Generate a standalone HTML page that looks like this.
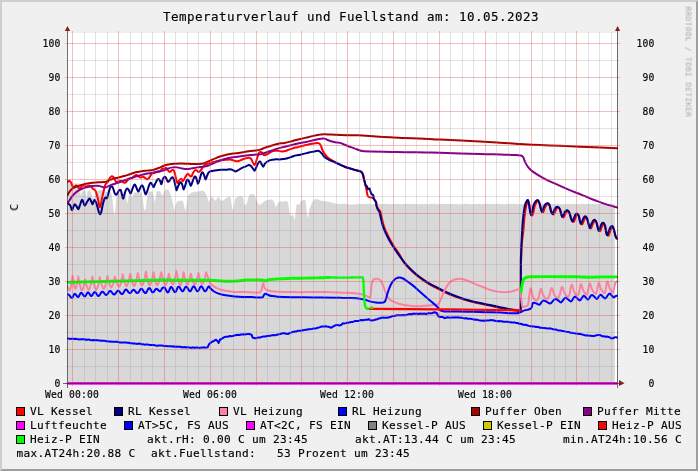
<!DOCTYPE html>
<html lang="de">
<head>
<meta charset="utf-8">
<title>Temperaturverlauf und Fuellstand</title>
<style>
html,body{margin:0;padding:0;background:#f0f0f0;}
body{width:698px;height:471px;overflow:hidden;}
svg{display:block;}
</style>
</head>
<body>
<svg width="698" height="471" viewBox="0 0 698 471" shape-rendering="auto">
<rect x="0" y="0" width="698" height="471" fill="#f0f0f0"/>
<polygon points="0,0 698,0 696,2 2,2 2,469 0,471" fill="#cfcfcf"/>
<polygon points="698,471 0,471 2,469 696,469 696,2 698,0" fill="#9e9e9e"/>
<rect x="67" y="33" width="550" height="350" fill="#ffffff"/>
<path d="M67.50,183.61L79.04,183.61L80.05,190.06L80.91,196.50L81.91,191.49L84.06,190.06L85.49,191.49L86.49,197.94L87.64,191.49L89.79,190.06L91.22,192.92L92.65,198.65L94.37,197.22L95.52,191.49L99.82,190.06L105.55,191.49L111.28,192.92L112.71,201.52L114.14,215.85L115.29,211.55L116.29,198.65L117.72,193.64L120.59,193.64L124.89,193.64L126.32,198.65L127.32,203.67L128.47,197.22L129.62,193.64L131.05,194.36L132.05,198.65L133.05,194.36L134.92,192.21L141.36,192.21L142.80,198.65L144.23,210.83L145.66,208.68L147.09,197.22L148.53,191.78L152.54,191.49L153.68,197.22L154.69,202.23L155.83,196.50L156.84,191.20L160.28,191.20L161.71,195.07L162.15,196.50L164.30,191.49L166.45,189.34L168.60,190.06L170.74,195.07L172.89,202.95L174.33,210.83L175.47,205.82L176.48,202.23L179.34,200.80L182.92,200.80L184.36,207.25L185.50,211.55L186.50,204.38L187.94,195.79L190.80,192.92L194.38,191.78L198.68,191.49L202.98,190.49L205.13,192.21L207.28,197.22L208.71,202.23L210.14,198.65L211.86,196.50L213.72,198.65L215.59,200.80L217.31,197.94L218.45,196.50L219.89,198.65L221.60,201.23L223.75,200.09L226.62,197.94L229.48,196.22L230.49,197.94L231.63,204.38L232.64,210.83L233.78,205.82L235.21,198.65L238.08,196.50L241.66,195.79L243.09,197.94L244.24,204.38L245.96,205.10L247.39,201.52L248.83,195.79L251.69,194.07L253.84,194.36L255.99,197.94L258.14,203.67L259.58,205.10L261.73,203.67L263.88,201.52L266.74,200.37L269.61,199.80L271.76,199.37L273.19,200.80L274.62,203.67L275.77,207.25L277.20,205.10L278.21,202.23L280.36,201.23L283.94,201.81L286.09,200.80L287.81,202.23L288.95,207.97L289.81,214.41L290.67,216.56L291.82,214.41L292.96,215.13L293.97,217.28L294.68,220.86L295.54,212.98L296.40,204.38L297.55,204.10L298.98,205.10L300.41,202.23L301.85,200.37L305.43,200.09L306.14,205.82L307.00,215.85L307.86,217.99L308.72,212.98L309.72,207.97L311.16,205.10L312.59,201.52L314.74,199.37L317.60,199.37L320.47,200.52L324.77,201.23L330.50,202.23L336.23,203.67L340.53,204.10L344.83,203.67L349.12,204.38L356.00,204.38L357.00,203.87L359.00,204.02L361.00,203.93L363.00,204.05L365.00,204.06L367.00,203.78L369.00,203.76L371.00,204.17L373.00,203.88L375.00,203.87L377.00,204.25L379.00,203.99L381.00,204.17L383.00,203.99L385.00,204.07L387.00,203.83L389.00,204.07L391.00,204.18L393.00,204.01L395.00,204.12L397.00,204.09L399.00,203.78L401.00,204.13L403.00,204.05L405.00,203.90L407.00,203.77L409.00,204.18L411.00,203.99L413.00,204.11L415.00,204.19L417.00,204.11L419.00,204.21L421.00,203.95L423.00,204.15L425.00,203.97L427.00,204.22L429.00,204.19L431.00,203.80L433.00,203.82L435.00,203.86L437.00,204.23L439.00,203.97L441.00,204.06L443.00,203.90L445.00,204.00L447.00,203.94L449.00,203.93L451.00,204.04L453.00,204.04L455.00,204.20L457.00,204.09L459.00,204.21L461.00,204.18L463.00,204.25L465.00,204.09L467.00,203.83L469.00,204.18L471.00,204.23L473.00,204.20L475.00,204.03L477.00,204.11L479.00,203.86L481.00,204.17L483.00,204.04L485.00,203.89L487.00,203.78L489.00,204.18L491.00,204.24L493.00,203.79L495.00,204.15L497.00,203.96L499.00,203.83L501.00,203.90L503.00,204.13L505.00,204.19L507.00,203.77L509.00,204.06L511.00,203.77L513.00,204.11L515.00,203.92L517.00,204.19L519.00,204.24L521.00,204.00L523.00,204.25L525.00,203.90L527.00,203.79L529.00,204.05L531.00,203.77L533.00,203.85L535.00,203.95L537.00,204.06L539.00,203.83L541.00,203.77L543.00,204.18L545.00,203.91L547.00,204.23L549.00,204.20L551.00,203.94L553.00,203.98L555.00,204.01L557.00,204.07L559.00,204.05L561.00,204.03L563.00,204.06L565.00,204.22L567.00,204.00L569.00,203.97L571.00,204.11L573.00,203.87L575.00,203.90L577.00,204.24L579.00,204.01L581.00,204.02L583.00,203.76L585.00,203.96L587.00,204.04L589.00,203.76L591.00,204.06L593.00,204.07L595.00,203.78L597.00,204.06L599.00,203.98L601.00,204.09L603.00,203.93L605.00,204.10L607.00,204.12L609.00,203.76L611.00,203.78L613.00,204.09L614.80,204.00L614.8,383L67.5,383Z" fill="#d8d8d8"/>
<defs><clipPath id="cv"><rect x="67" y="33" width="551" height="351"/></clipPath></defs>
<g clip-path="url(#cv)">
<path d="M67.58,182.09C67.89,181.85 68.85,180.53 69.44,180.65C70.04,180.77 70.64,181.85 71.16,182.80C71.69,183.76 72.17,185.55 72.60,186.38C73.03,187.22 73.31,187.86 73.74,187.82C74.17,187.77 74.70,186.46 75.17,186.10C75.65,185.74 76.08,185.43 76.61,185.67C77.13,185.91 77.80,187.05 78.33,187.53C78.85,188.01 79.28,188.60 79.76,188.53C80.24,188.46 80.71,187.65 81.19,187.10C81.67,186.55 82.03,185.40 82.62,185.24C83.22,185.07 84.06,185.91 84.77,186.10C85.49,186.29 86.21,186.46 86.92,186.38C87.64,186.31 88.36,185.67 89.07,185.67C89.79,185.67 90.62,185.91 91.22,186.38C91.82,186.86 92.06,187.94 92.65,188.53C93.25,189.13 94.21,189.25 94.80,189.97C95.40,190.68 95.76,191.52 96.23,192.83C96.71,194.14 97.19,195.82 97.67,197.85C98.15,199.87 98.74,203.46 99.10,205.01C99.46,206.56 99.51,207.40 99.82,207.16C100.13,206.92 100.53,205.37 100.96,203.58C101.39,201.79 101.87,198.80 102.40,196.41C102.92,194.02 103.59,191.28 104.11,189.25C104.64,187.22 104.95,185.43 105.55,184.23C106.14,183.04 107.03,183.04 107.70,182.09C108.36,181.13 108.96,179.46 109.56,178.50C110.16,177.55 110.63,176.59 111.28,176.36C111.92,176.12 112.83,176.47 113.43,177.07C114.02,177.67 114.38,179.10 114.86,179.94C115.34,180.77 115.70,181.85 116.29,182.09C116.89,182.32 117.72,181.61 118.44,181.37C119.16,181.13 119.87,180.58 120.59,180.65C121.31,180.72 122.14,181.44 122.74,181.80C123.34,182.16 123.65,182.75 124.17,182.80C124.70,182.85 125.29,182.56 125.89,182.09C126.49,181.61 127.09,180.53 127.75,179.94C128.42,179.34 129.19,178.81 129.90,178.50C130.62,178.19 131.34,178.48 132.05,178.07C132.77,177.67 133.48,176.59 134.20,176.07C134.92,175.54 135.63,174.87 136.35,174.92C137.07,174.97 137.78,175.93 138.50,176.36C139.21,176.79 139.93,177.45 140.65,177.50C141.36,177.55 142.08,176.59 142.80,176.64C143.51,176.69 144.23,177.36 144.95,177.79C145.66,178.22 146.50,179.10 147.09,179.22C147.69,179.34 148.05,178.98 148.53,178.50C149.00,178.03 149.36,177.19 149.96,176.36C150.56,175.52 151.39,174.09 152.11,173.49C152.83,172.89 153.42,173.01 154.26,172.77C155.09,172.53 156.17,172.30 157.12,172.06C158.08,171.82 159.15,171.88 159.99,171.34C160.83,170.80 161.43,169.30 162.15,168.80C162.87,168.31 163.58,168.49 164.30,168.37C165.01,168.25 165.85,167.78 166.45,168.09C167.04,168.40 167.33,169.57 167.88,170.23C168.43,170.90 169.15,172.03 169.74,172.10C170.34,172.17 170.89,171.05 171.46,170.66C172.03,170.28 172.66,169.52 173.18,169.81C173.71,170.09 174.18,171.12 174.61,172.38C175.04,173.65 175.38,175.85 175.76,177.40C176.14,178.95 176.55,180.74 176.91,181.70C177.26,182.65 177.50,183.37 177.91,183.13C178.31,182.89 178.79,180.98 179.34,180.26C179.89,179.55 180.61,178.71 181.20,178.83C181.80,178.95 182.40,180.98 182.92,180.98C183.45,180.98 183.81,179.74 184.36,178.83C184.90,177.92 185.62,176.37 186.22,175.54C186.81,174.70 187.29,173.74 187.94,173.82C188.58,173.89 189.49,175.54 190.09,175.97C190.68,176.40 191.04,176.87 191.52,176.40C192.00,175.92 192.35,174.13 192.95,173.10C193.55,172.07 194.43,170.64 195.10,170.23C195.77,169.83 196.37,170.35 196.96,170.66C197.56,170.98 198.04,172.17 198.68,172.10C199.33,172.03 200.16,171.02 200.83,170.23C201.50,169.45 202.05,168.25 202.69,167.37C203.34,166.49 203.94,165.53 204.70,164.93C205.46,164.34 206.37,164.10 207.28,163.79C208.19,163.48 209.07,163.36 210.14,163.07C211.22,162.79 212.53,162.43 213.72,162.07C214.92,161.71 215.99,161.23 217.31,160.92C218.62,160.61 220.17,160.40 221.60,160.21C223.04,160.02 224.47,159.90 225.90,159.78C227.34,159.66 229.01,159.42 230.20,159.49C231.39,159.56 232.11,159.92 233.07,160.21C234.02,160.49 234.98,161.09 235.93,161.21C236.89,161.33 237.72,161.21 238.80,160.92C239.87,160.64 241.18,159.92 242.38,159.49C243.57,159.06 244.89,158.63 245.96,158.34C247.03,158.06 247.99,157.70 248.83,157.77C249.66,157.84 250.31,158.01 250.97,158.77C251.64,159.54 252.29,161.33 252.84,162.36C253.39,163.38 253.79,164.81 254.27,164.93C254.75,165.05 255.22,164.22 255.70,163.07C256.18,161.93 256.66,159.61 257.13,158.06C257.61,156.51 258.16,154.73 258.57,153.76C258.98,152.79 259.05,152.48 259.58,152.22C260.11,151.96 261.01,151.74 261.73,152.22C262.45,152.70 263.16,154.66 263.88,155.09C264.60,155.52 265.19,155.09 266.03,154.80C266.86,154.51 267.94,153.92 268.89,153.37C269.85,152.82 270.80,151.93 271.76,151.50C272.71,151.07 273.55,150.91 274.62,150.79C275.70,150.67 277.01,150.67 278.21,150.79C279.40,150.91 280.59,151.46 281.79,151.50C282.98,151.55 284.18,151.38 285.37,151.07C286.56,150.76 287.64,150.12 288.95,149.64C290.26,149.16 291.82,148.62 293.25,148.21C294.68,147.80 296.11,147.56 297.55,147.21C298.98,146.85 300.41,146.42 301.85,146.06C303.28,145.70 304.71,145.39 306.14,145.06C307.58,144.72 309.01,144.34 310.44,144.05C311.87,143.77 313.50,143.53 314.74,143.34C315.98,143.15 317.06,142.81 317.89,142.91C318.73,143.00 319.20,143.31 319.75,143.91C320.30,144.51 320.71,145.39 321.19,146.49C321.66,147.59 322.07,149.31 322.62,150.50C323.17,151.70 323.77,152.60 324.48,153.65C325.20,154.70 326.03,155.90 326.92,156.81C327.80,157.71 328.71,158.38 329.78,159.10C330.86,159.81 332.05,160.39 333.36,161.10C334.68,161.82 336.23,162.63 337.66,163.40C339.09,164.16 340.85,165.14 341.96,165.69C343.07,166.24 343.19,166.28 344.30,166.69C345.40,167.10 346.92,167.60 348.60,168.12C350.27,168.65 352.66,169.36 354.33,169.84C356.00,170.32 357.43,170.61 358.62,170.99C359.82,171.37 360.77,171.54 361.49,172.13C362.21,172.73 362.49,173.30 362.92,174.57C363.35,175.84 363.81,178.66 364.07,179.73C364.33,180.80 364.23,179.95 364.50,181.00C364.77,182.05 365.33,184.33 365.70,186.00C366.07,187.67 366.38,189.42 366.70,191.00C367.02,192.58 367.25,194.50 367.60,195.50C367.95,196.50 368.32,196.68 368.80,197.00C369.28,197.32 369.87,197.27 370.50,197.40C371.13,197.53 371.98,197.48 372.60,197.80C373.22,198.12 373.62,198.55 374.20,199.30C374.78,200.05 375.68,201.17 376.10,202.30C376.52,203.43 376.20,204.82 376.70,206.10C377.20,207.38 378.50,209.10 379.10,210.00C379.70,210.90 379.88,210.35 380.30,211.50C380.72,212.65 380.97,214.33 381.60,216.90C382.23,219.47 383.02,223.73 384.10,226.90C385.18,230.07 386.60,232.88 388.10,235.90C389.60,238.92 391.25,241.98 393.10,245.00C394.95,248.02 397.38,251.06 399.20,254.00C401.02,256.94 402.20,260.11 404.00,262.65C405.80,265.19 408.00,267.23 410.00,269.25C412.00,271.27 414.00,273.07 416.00,274.75C418.00,276.43 420.00,277.92 422.00,279.35C424.00,280.78 425.98,282.12 428.00,283.35C430.02,284.58 432.08,285.68 434.10,286.75C436.12,287.82 438.10,288.75 440.10,289.75C442.10,290.75 444.10,291.82 446.10,292.75C448.10,293.68 449.77,294.42 452.10,295.35C454.43,296.28 457.42,297.45 460.10,298.35C462.78,299.25 464.92,299.88 468.20,300.75C471.48,301.62 476.20,302.75 479.80,303.55C483.40,304.35 486.47,304.85 489.80,305.55C493.13,306.25 496.47,307.05 499.80,307.75C503.13,308.45 506.40,309.18 509.80,309.75C513.20,310.32 518.47,310.92 520.20,311.15L520.80,311.20L521.00,262.00L521.00,262.00C521.04,261.22 521.15,260.23 521.27,257.35C521.38,254.47 521.34,249.20 521.70,244.74C522.05,240.29 523.01,234.64 523.41,230.61C523.82,226.59 523.84,223.69 524.13,220.59C524.42,217.48 524.77,214.50 525.13,211.99C525.49,209.48 525.85,207.21 526.28,205.54C526.71,203.87 527.38,202.73 527.71,201.96C528.04,201.19 527.96,200.38 528.24,200.93C528.52,201.47 529.03,203.32 529.39,205.23C529.75,207.14 529.91,210.67 530.39,212.39C530.88,214.11 531.79,215.64 532.30,215.57C532.80,215.50 533.01,213.66 533.44,211.99C533.87,210.32 534.28,207.26 534.87,205.54C535.47,203.82 536.46,202.44 537.02,201.67C537.59,200.91 537.83,200.58 538.27,200.93C538.72,201.28 539.23,202.36 539.71,203.79C540.18,205.23 540.56,208.11 541.14,209.52C541.72,210.94 542.60,212.46 543.18,212.28C543.76,212.09 544.04,209.65 544.62,208.41C545.19,207.17 545.96,205.52 546.62,204.83C547.28,204.13 548.02,203.92 548.59,204.22C549.15,204.53 549.54,205.30 550.02,206.66C550.50,208.02 550.87,211.07 551.45,212.39C552.03,213.71 552.92,214.64 553.50,214.57C554.08,214.50 554.41,213.02 554.93,211.99C555.46,210.96 556.08,209.11 556.65,208.41C557.22,207.71 557.76,207.62 558.33,207.81C558.90,207.99 559.52,208.40 560.05,209.52C560.57,210.65 560.90,213.22 561.48,214.54C562.06,215.86 562.95,217.38 563.53,217.43C564.11,217.49 564.44,215.81 564.96,214.86C565.49,213.90 566.16,212.28 566.68,211.70C567.20,211.13 567.55,211.03 568.07,211.39C568.59,211.74 569.27,212.58 569.79,213.82C570.32,215.06 570.60,217.47 571.22,218.84C571.85,220.20 572.93,221.97 573.56,222.02C574.18,222.07 574.46,220.30 574.99,219.15C575.51,218.01 576.26,215.91 576.71,215.14C577.16,214.37 577.27,214.28 577.67,214.54C578.07,214.80 578.70,215.49 579.10,216.69C579.51,217.88 579.60,220.38 580.11,221.70C580.61,223.02 581.57,224.66 582.15,224.60C582.73,224.53 583.06,222.45 583.59,221.30C584.11,220.16 584.86,218.37 585.30,217.72C585.75,217.07 585.87,216.98 586.27,217.40C586.67,217.83 587.22,218.84 587.70,220.27C588.18,221.70 588.58,224.63 589.13,226.00C589.69,227.37 590.48,228.65 591.04,228.47C591.59,228.28 591.92,226.08 592.47,224.88C593.02,223.69 593.86,222.00 594.33,221.30C594.80,220.60 594.89,220.39 595.29,220.70C595.69,221.00 596.25,221.77 596.73,223.13C597.20,224.50 597.60,227.50 598.16,228.87C598.71,230.23 599.50,231.52 600.06,231.33C600.62,231.14 601.02,228.94 601.49,227.75C601.97,226.56 602.53,224.82 602.93,224.17C603.33,223.52 603.49,223.43 603.89,223.85C604.29,224.28 604.89,225.16 605.32,226.72C605.75,228.27 605.94,231.68 606.47,233.16C607.00,234.65 607.91,235.93 608.51,235.63C609.12,235.32 609.52,232.69 610.09,231.33C610.66,229.97 611.51,228.18 611.95,227.46C612.40,226.74 612.40,226.53 612.77,227.00C613.15,227.48 613.77,228.91 614.20,230.30C614.63,231.68 614.99,234.00 615.35,235.31C615.71,236.63 616.04,237.56 616.35,238.18C616.66,238.80 617.07,238.89 617.21,239.04" fill="none" stroke="#ff0000" stroke-width="2.0" stroke-linejoin="round" stroke-linecap="round" />
<path d="M67.58,202.86C67.82,203.10 68.54,203.81 69.01,204.29C69.49,204.77 69.97,204.77 70.45,205.72C70.92,206.68 71.40,209.78 71.88,210.02C72.36,210.26 72.83,208.11 73.31,207.16C73.79,206.20 74.20,204.41 74.74,204.29C75.29,204.17 76.01,205.61 76.61,206.44C77.20,207.28 77.80,209.43 78.33,209.31C78.85,209.19 79.16,207.28 79.76,205.72C80.36,204.17 81.31,200.59 81.91,199.99C82.51,199.40 82.86,201.19 83.34,202.14C83.82,203.10 84.18,205.72 84.77,205.72C85.37,205.72 86.13,203.34 86.92,202.14C87.71,200.95 88.79,198.68 89.50,198.56C90.22,198.44 90.70,200.47 91.22,201.43C91.75,202.38 92.13,204.53 92.65,204.29C93.18,204.05 93.78,200.23 94.37,199.99C94.97,199.76 95.69,201.55 96.23,202.86C96.78,204.17 97.19,206.20 97.67,207.87C98.15,209.55 98.69,211.81 99.10,212.89C99.51,213.96 99.74,214.44 100.10,214.32C100.46,214.20 100.82,213.72 101.25,212.17C101.68,210.62 102.13,207.28 102.68,205.01C103.23,202.74 104.02,199.80 104.54,198.56C105.07,197.32 105.43,197.63 105.83,197.56C106.24,197.49 106.55,198.80 106.98,198.13C107.41,197.46 107.89,195.27 108.41,193.55C108.94,191.83 109.53,189.01 110.13,187.82C110.73,186.62 111.45,186.15 111.99,186.38C112.54,186.62 112.95,188.06 113.43,189.25C113.90,190.44 114.38,192.64 114.86,193.55C115.34,194.45 115.81,194.81 116.29,194.69C116.77,194.57 117.25,193.55 117.72,192.83C118.20,192.11 118.68,190.87 119.16,190.40C119.64,189.92 120.16,189.44 120.59,189.97C121.02,190.49 121.33,192.11 121.74,193.55C122.14,194.98 122.62,198.20 123.03,198.56C123.43,198.92 123.74,197.01 124.17,195.70C124.60,194.38 125.08,191.88 125.60,190.68C126.13,189.49 126.80,188.65 127.32,188.53C127.85,188.41 128.21,189.13 128.76,189.97C129.31,190.80 130.07,193.55 130.62,193.55C131.17,193.55 131.45,191.40 132.05,189.97C132.65,188.53 133.60,185.67 134.20,184.95C134.80,184.23 135.11,184.83 135.63,185.67C136.16,186.50 136.87,189.01 137.35,189.97C137.83,190.92 138.07,191.64 138.50,191.40C138.93,191.16 139.33,189.56 139.93,188.53C140.53,187.51 141.48,185.36 142.08,185.24C142.68,185.12 143.04,186.55 143.51,187.82C143.99,189.08 144.54,191.76 144.95,192.83C145.35,193.91 145.54,194.62 145.95,194.26C146.35,193.91 146.83,192.23 147.38,190.68C147.93,189.13 148.69,186.26 149.24,184.95C149.79,183.64 150.20,182.92 150.68,182.80C151.15,182.68 151.63,183.52 152.11,184.23C152.59,184.95 153.06,187.10 153.54,187.10C154.02,187.10 154.38,185.43 154.97,184.23C155.57,183.04 156.53,180.82 157.12,179.94C157.72,179.05 158.08,178.81 158.56,178.93C159.03,179.05 159.51,179.77 159.99,180.65C160.47,181.54 160.94,184.54 161.42,184.23C161.90,183.93 162.27,180.09 162.87,178.83C163.46,177.57 164.42,176.68 165.01,176.68C165.61,176.68 165.97,178.00 166.45,178.83C166.92,179.67 167.40,181.34 167.88,181.70C168.36,182.05 168.76,181.58 169.31,180.98C169.86,180.38 170.58,178.71 171.17,178.11C171.77,177.52 172.37,176.92 172.89,177.40C173.42,177.88 173.85,179.31 174.33,180.98C174.80,182.65 175.40,185.87 175.76,187.43C176.12,188.98 176.12,190.41 176.48,190.29C176.83,190.17 177.36,187.90 177.91,186.71C178.46,185.52 179.22,183.85 179.77,183.13C180.32,182.41 180.73,181.94 181.20,182.41C181.68,182.89 182.23,184.80 182.64,185.99C183.04,187.19 183.23,189.58 183.64,189.58C184.04,189.58 184.59,187.43 185.07,185.99C185.55,184.56 186.03,182.05 186.50,180.98C186.98,179.91 187.46,179.31 187.94,179.55C188.41,179.79 188.89,181.34 189.37,182.41C189.85,183.49 190.32,185.99 190.80,185.99C191.28,185.99 191.69,183.85 192.23,182.41C192.78,180.98 193.55,178.35 194.10,177.40C194.65,176.44 195.05,176.20 195.53,176.68C196.01,177.16 196.56,179.07 196.96,180.26C197.37,181.46 197.56,183.85 197.97,183.85C198.37,183.85 198.85,181.94 199.40,180.26C199.95,178.59 200.71,175.13 201.26,173.82C201.81,172.50 202.22,172.15 202.69,172.38C203.17,172.62 203.65,174.06 204.13,175.25C204.60,176.44 205.08,179.43 205.56,179.55C206.04,179.67 206.47,177.16 206.99,175.97C207.52,174.77 208.07,173.17 208.71,172.38C209.36,171.60 210.02,171.52 210.86,171.24C211.70,170.95 212.65,170.83 213.72,170.66C214.80,170.50 215.99,170.38 217.31,170.23C218.62,170.09 220.17,169.88 221.60,169.81C223.04,169.73 224.47,169.90 225.90,169.81C227.34,169.71 229.01,169.16 230.20,169.23C231.39,169.30 232.23,169.88 233.07,170.23C233.90,170.59 234.50,171.31 235.21,171.38C235.93,171.45 236.53,171.09 237.36,170.66C238.20,170.23 239.27,169.35 240.23,168.80C241.18,168.25 242.14,167.78 243.09,167.37C244.05,166.96 245.00,166.77 245.96,166.37C246.91,165.96 247.99,165.01 248.83,164.93C249.66,164.86 250.26,165.29 250.97,165.94C251.69,166.58 252.53,168.01 253.12,168.80C253.72,169.59 254.08,170.78 254.56,170.66C255.03,170.55 255.51,169.11 255.99,168.09C256.47,167.06 256.99,165.43 257.42,164.50C257.85,163.58 258.15,163.03 258.58,162.54C259.01,162.04 259.53,161.34 260.01,161.53C260.49,161.72 260.92,162.80 261.44,163.68C261.97,164.57 262.59,166.83 263.16,166.83C263.74,166.83 264.17,164.57 264.88,163.68C265.60,162.80 266.55,162.13 267.46,161.53C268.37,160.94 269.13,160.46 270.33,160.10C271.52,159.74 273.19,159.50 274.62,159.38C276.06,159.26 277.49,159.43 278.92,159.38C280.36,159.34 281.79,159.29 283.22,159.10C284.65,158.91 286.09,158.62 287.52,158.24C288.95,157.86 290.38,157.28 291.82,156.81C293.25,156.33 294.68,155.73 296.11,155.37C297.55,155.01 298.98,154.94 300.41,154.66C301.85,154.37 303.28,154.01 304.71,153.65C306.14,153.30 307.58,152.84 309.01,152.51C310.44,152.17 312.11,151.89 313.31,151.65C314.50,151.41 315.41,151.22 316.17,151.07C316.94,150.93 317.29,150.72 317.89,150.79C318.49,150.86 319.09,151.03 319.75,151.50C320.42,151.98 321.19,152.82 321.90,153.65C322.62,154.49 323.34,155.75 324.05,156.52C324.77,157.28 325.36,157.69 326.20,158.24C327.04,158.79 327.87,159.24 329.07,159.81C330.26,160.39 331.93,161.03 333.36,161.68C334.80,162.32 336.23,163.04 337.66,163.68C339.09,164.33 340.85,165.07 341.96,165.54C343.07,166.02 343.19,166.14 344.30,166.55C345.40,166.95 346.92,167.45 348.60,167.98C350.27,168.51 352.66,169.22 354.33,169.70C356.00,170.18 357.43,170.46 358.62,170.85C359.82,171.23 360.77,171.39 361.49,171.99C362.21,172.59 362.49,173.19 362.92,174.43C363.35,175.67 363.81,178.35 364.07,179.44C364.33,180.54 364.26,180.07 364.50,181.00C364.74,181.93 365.08,184.08 365.50,185.00C365.92,185.92 366.62,185.82 367.00,186.50C367.38,187.18 367.38,188.75 367.80,189.10C368.22,189.45 369.05,188.18 369.50,188.60C369.95,189.02 370.17,190.68 370.50,191.60C370.83,192.52 371.05,193.52 371.50,194.10C371.95,194.68 372.78,194.27 373.20,195.10C373.62,195.93 373.53,197.93 374.00,199.10C374.47,200.27 375.58,200.93 376.00,202.10C376.42,203.27 376.15,204.77 376.50,206.10C376.85,207.43 377.63,209.18 378.10,210.10C378.57,211.02 378.88,210.45 379.30,211.60C379.72,212.75 379.97,214.43 380.60,217.00C381.23,219.57 382.02,223.83 383.10,227.00C384.18,230.17 385.60,232.98 387.10,236.00C388.60,239.02 390.25,242.08 392.10,245.10C393.95,248.12 396.18,251.27 398.20,254.10C400.22,256.93 402.20,259.67 404.20,262.10C406.20,264.53 408.20,266.68 410.20,268.70C412.20,270.72 414.20,272.52 416.20,274.20C418.20,275.88 420.20,277.37 422.20,278.80C424.20,280.23 426.18,281.57 428.20,282.80C430.22,284.03 432.28,285.13 434.30,286.20C436.32,287.27 438.30,288.20 440.30,289.20C442.30,290.20 444.30,291.27 446.30,292.20C448.30,293.13 449.97,293.87 452.30,294.80C454.63,295.73 457.62,296.90 460.30,297.80C462.98,298.70 465.12,299.33 468.40,300.20C471.68,301.07 476.40,302.20 480.00,303.00C483.60,303.80 486.67,304.30 490.00,305.00C493.33,305.70 496.67,306.50 500.00,307.20C503.33,307.90 506.60,308.63 510.00,309.20C513.40,309.77 518.67,310.37 520.40,310.60L520.60,310.70L520.80,257.00L520.80,257.00C520.84,257.01 520.91,259.14 521.02,257.05C521.13,254.96 521.26,248.93 521.45,244.44C521.64,239.95 521.92,234.17 522.16,230.11C522.40,226.06 522.59,223.19 522.88,220.09C523.17,216.98 523.52,214.00 523.88,211.49C524.24,208.98 524.60,206.71 525.03,205.04C525.46,203.37 525.98,202.30 526.46,201.46C526.94,200.63 527.46,199.55 527.89,200.03C528.32,200.51 528.68,202.42 529.04,204.33C529.40,206.24 529.71,209.70 530.04,211.49C530.38,213.28 530.69,215.07 531.05,215.07C531.40,215.07 531.76,213.16 532.19,211.49C532.62,209.82 533.03,206.76 533.62,205.04C534.22,203.32 535.06,202.01 535.77,201.17C536.49,200.34 537.33,199.74 537.92,200.03C538.52,200.32 538.88,201.46 539.36,202.89C539.83,204.33 540.36,207.14 540.79,208.62C541.22,210.11 541.50,211.90 541.93,211.78C542.36,211.66 542.79,209.15 543.37,207.91C543.94,206.67 544.56,205.09 545.37,204.33C546.18,203.56 547.52,203.09 548.24,203.32C548.95,203.56 549.19,204.40 549.67,205.76C550.15,207.12 550.67,210.11 551.10,211.49C551.53,212.87 551.82,214.07 552.25,214.07C552.68,214.07 553.16,212.52 553.68,211.49C554.21,210.46 554.68,208.67 555.40,207.91C556.12,207.14 557.26,206.79 557.98,206.91C558.70,207.02 559.17,207.50 559.70,208.62C560.22,209.75 560.70,212.25 561.13,213.64C561.56,215.02 561.85,216.81 562.28,216.93C562.71,217.05 563.19,215.31 563.71,214.36C564.24,213.40 564.76,211.85 565.43,211.20C566.10,210.56 567.05,210.20 567.72,210.49C568.39,210.77 568.92,211.68 569.44,212.92C569.97,214.16 570.40,216.50 570.87,217.94C571.35,219.37 571.83,221.40 572.31,221.52C572.78,221.64 573.21,219.80 573.74,218.65C574.26,217.51 574.86,215.48 575.46,214.64C576.06,213.81 576.77,213.45 577.32,213.64C577.87,213.83 578.35,214.59 578.75,215.79C579.16,216.98 579.40,219.42 579.76,220.80C580.11,222.19 580.47,224.10 580.90,224.10C581.33,224.10 581.81,221.95 582.34,220.80C582.86,219.66 583.46,217.94 584.05,217.22C584.65,216.50 585.37,216.15 585.92,216.50C586.47,216.86 586.87,217.94 587.35,219.37C587.83,220.80 588.38,223.67 588.78,225.10C589.19,226.53 589.38,228.09 589.79,227.97C590.19,227.85 590.67,225.58 591.22,224.38C591.77,223.19 592.46,221.57 593.08,220.80C593.70,220.04 594.39,219.56 594.94,219.80C595.49,220.04 595.90,220.87 596.38,222.23C596.85,223.60 597.40,226.53 597.81,227.97C598.21,229.40 598.40,230.95 598.81,230.83C599.22,230.71 599.77,228.44 600.24,227.25C600.72,226.06 601.13,224.38 601.68,223.67C602.23,222.95 602.99,222.59 603.54,222.95C604.09,223.31 604.54,224.26 604.97,225.82C605.40,227.37 605.74,230.71 606.12,232.26C606.50,233.82 606.81,235.37 607.26,235.13C607.72,234.89 608.27,232.19 608.84,230.83C609.41,229.47 610.11,227.75 610.70,226.96C611.30,226.17 611.90,225.70 612.42,226.10C612.95,226.51 613.42,228.01 613.85,229.40C614.28,230.78 614.64,233.10 615.00,234.41C615.36,235.73 615.69,236.66 616.00,237.28C616.31,237.90 616.72,237.99 616.86,238.14" fill="none" stroke="#000080" stroke-width="2.0" stroke-linejoin="round" stroke-linecap="round" />
<path d="M67.58,286.65L68.01,287.73L68.44,288.65L68.87,289.41L69.30,289.96L69.73,290.23L70.14,289.60L70.55,288.30L70.96,286.54L71.37,284.38L71.78,281.87L72.19,279.04L72.60,275.91L73.01,278.73L73.41,281.28L73.82,283.54L74.23,285.48L74.64,287.06L75.05,288.23L75.46,288.80L75.87,288.26L76.28,287.16L76.69,285.66L77.10,283.83L77.51,281.69L77.92,279.29L78.33,276.62L78.77,279.24L79.22,281.65L79.67,283.82L80.12,285.75L80.57,287.40L81.01,288.75L81.46,289.75L81.91,290.23L82.32,289.85L82.73,289.07L83.14,288.00L83.56,286.69L83.97,285.17L84.38,283.45L84.79,281.56L85.20,279.49L85.63,281.47L86.06,283.30L86.49,284.94L86.92,286.40L87.35,287.66L87.78,288.68L88.21,289.43L88.64,289.81L89.06,289.41L89.47,288.62L89.88,287.53L90.30,286.20L90.71,284.66L91.13,282.92L91.54,280.99L91.95,278.89L92.37,276.62L92.80,278.89L93.23,280.99L93.66,282.92L94.09,284.66L94.52,286.20L94.95,287.53L95.38,288.62L95.81,289.41L96.23,289.81L96.68,289.36L97.13,288.45L97.58,287.21L98.03,285.69L98.47,283.93L98.92,281.94L99.37,279.74L99.82,277.34L100.22,279.12L100.62,280.78L101.02,282.33L101.42,283.74L101.82,285.02L102.22,286.16L102.62,287.13L103.03,287.93L103.43,288.51L103.83,288.80L104.28,288.34L104.72,287.40L105.17,286.12L105.62,284.55L106.07,282.72L106.51,280.66L106.96,278.39L107.41,275.91L107.84,277.88L108.27,279.70L108.70,281.38L109.13,282.89L109.56,284.24L109.99,285.39L110.42,286.34L110.85,287.03L111.28,287.37L111.73,286.98L112.17,286.20L112.62,285.13L113.07,283.83L113.52,282.30L113.96,280.59L114.41,278.69L114.86,276.62L115.29,278.18L115.72,279.64L116.15,280.99L116.58,282.22L117.01,283.35L117.44,284.34L117.87,285.19L118.30,285.89L118.73,286.40L119.16,286.65L119.61,286.22L120.05,285.33L120.50,284.12L120.95,282.64L121.40,280.91L121.84,278.97L122.29,276.82L122.74,274.48L123.17,276.44L123.60,278.27L124.03,279.95L124.46,281.46L124.89,282.81L125.32,283.96L125.75,284.90L126.18,285.60L126.61,285.94L127.06,285.50L127.50,284.61L127.95,283.40L128.40,281.92L128.85,280.20L129.29,278.25L129.74,276.10L130.19,273.76L130.59,275.65L130.99,277.42L131.39,279.05L131.79,280.56L132.19,281.92L132.60,283.13L133.00,284.16L133.40,285.01L133.80,285.63L134.20,285.94L134.65,285.47L135.10,284.53L135.54,283.25L135.99,281.68L136.44,279.86L136.89,277.80L137.33,275.52L137.78,273.04L138.21,274.93L138.64,276.70L139.07,278.34L139.50,279.84L139.93,281.20L140.36,282.41L140.79,283.45L141.22,284.29L141.65,284.91L142.08,285.22L142.51,284.82L142.94,283.99L143.37,282.87L143.80,281.50L144.23,279.91L144.66,278.11L145.09,276.12L145.52,273.95L145.95,271.61L146.36,273.95L146.78,276.12L147.19,278.11L147.60,279.91L148.02,281.50L148.43,282.87L148.85,283.99L149.26,284.82L149.67,285.22L150.10,284.84L150.53,284.06L150.96,283.00L151.39,281.70L151.82,280.19L152.25,278.48L152.68,276.60L153.11,274.54L153.54,272.33L153.99,274.75L154.44,276.98L154.88,278.99L155.33,280.78L155.78,282.31L156.23,283.56L156.68,284.48L157.12,284.93L157.52,284.62L157.93,283.97L158.33,283.10L158.73,282.02L159.13,280.78L159.53,279.37L159.93,277.81L160.33,276.11L160.73,274.28L161.13,272.33L161.28,272.81L161.43,273.04L161.83,274.89L162.23,276.61L162.64,278.21L163.04,279.68L163.44,281.01L163.84,282.19L164.24,283.20L164.64,284.03L165.04,284.64L165.44,284.93L165.87,284.53L166.30,283.72L166.73,282.61L167.16,281.25L167.59,279.67L168.02,277.88L168.45,275.91L168.88,273.76L169.28,275.43L169.68,276.99L170.09,278.43L170.49,279.76L170.89,280.96L171.29,282.02L171.69,282.94L172.09,283.69L172.49,284.23L172.89,284.50L173.34,284.02L173.79,283.02L174.24,281.67L174.68,280.01L175.13,278.09L175.58,275.91L176.03,273.51L176.48,270.89L176.91,273.35L177.34,275.64L177.77,277.73L178.19,279.63L178.62,281.31L179.05,282.75L179.48,283.93L179.91,284.79L180.34,285.22L180.76,284.76L181.17,283.82L181.58,282.54L181.99,280.97L182.40,279.14L182.82,277.08L183.23,274.81L183.64,272.33L184.07,274.42L184.50,276.36L184.93,278.14L185.36,279.75L185.79,281.18L186.22,282.40L186.65,283.41L187.08,284.14L187.51,284.50L187.92,284.12L188.33,283.34L188.74,282.27L189.15,280.96L189.57,279.44L189.98,277.72L190.39,275.83L190.80,273.76L191.23,275.60L191.66,277.32L192.09,278.89L192.52,280.31L192.95,281.57L193.38,282.65L193.81,283.54L194.24,284.18L194.67,284.50L195.08,284.16L195.50,283.47L195.91,282.53L196.33,281.37L196.74,280.03L197.15,278.51L197.57,276.84L197.98,275.01L198.40,273.04L198.83,274.94L199.26,276.70L199.68,278.31L200.11,279.77L200.54,281.06L200.97,282.17L201.40,283.08L201.83,283.75L202.26,284.07L202.69,283.73L203.12,283.02L203.55,282.05L203.98,280.86L204.41,279.49L204.84,277.93L205.27,276.22L205.70,274.34L206.13,272.33L206.13,272.33C206.56,273.52 207.99,277.63 208.71,279.49C209.43,281.35 209.71,282.43 210.43,283.50C211.15,284.58 211.86,285.13 213.01,285.94C214.15,286.75 215.64,287.66 217.31,288.37C218.98,289.09 221.13,289.76 223.04,290.23C224.95,290.71 226.86,290.95 228.77,291.24C230.68,291.52 232.59,291.81 234.50,291.95C236.41,292.10 238.32,292.07 240.23,292.10C242.14,292.12 243.81,292.05 245.96,292.10C248.11,292.15 251.45,292.34 253.12,292.38C254.80,292.43 254.80,292.38 256.00,292.38C257.20,292.38 259.34,292.98 260.30,292.38C261.25,291.79 261.25,290.35 261.73,288.80C262.21,287.25 262.73,283.31 263.16,283.07C263.59,282.83 263.83,286.30 264.31,287.37C264.79,288.44 265.03,288.92 266.03,289.52C267.03,290.12 268.42,290.59 270.33,290.95C272.24,291.31 273.91,291.48 277.49,291.67C281.07,291.86 285.85,292.03 291.82,292.10C297.79,292.17 307.34,292.10 313.31,292.10C319.28,292.10 322.86,292.00 327.63,292.10C332.41,292.19 338.70,292.55 341.96,292.67C345.21,292.79 345.10,292.71 347.16,292.80C349.22,292.90 351.94,292.99 354.33,293.23C356.71,293.47 359.39,293.76 361.49,294.23C363.59,294.71 365.53,295.55 366.93,296.10C368.34,296.65 369.32,297.72 369.94,297.53C370.56,297.34 370.42,296.81 370.66,294.95C370.90,293.09 371.02,288.74 371.38,286.36C371.73,283.97 372.21,281.87 372.81,280.62C373.40,279.38 374.12,279.19 374.96,278.91C375.79,278.62 376.87,278.62 377.82,278.91C378.78,279.19 379.85,279.62 380.69,280.62C381.52,281.63 382.12,283.25 382.84,284.92C383.55,286.59 384.29,288.86 384.99,290.65C385.68,292.44 386.25,294.23 386.99,295.67C387.73,297.10 388.42,298.29 389.43,299.25C390.43,300.20 391.70,300.73 393.01,301.40C394.32,302.07 395.64,302.71 397.31,303.26C398.98,303.81 401.13,304.31 403.04,304.69C404.95,305.08 406.86,305.31 408.77,305.55C410.68,305.79 412.59,306.03 414.50,306.13C416.41,306.22 418.32,306.20 420.23,306.13C422.14,306.05 424.05,305.84 425.96,305.70C427.87,305.55 430.02,305.43 431.69,305.27C433.36,305.10 434.91,304.86 435.99,304.69C437.06,304.53 437.43,304.93 438.15,304.26C438.87,303.60 439.46,302.47 440.30,300.68C441.13,298.89 442.21,295.67 443.16,293.52C444.12,291.37 445.07,289.46 446.03,287.79C446.98,286.12 447.82,284.73 448.89,283.49C449.97,282.25 451.16,281.10 452.48,280.34C453.79,279.57 455.22,279.14 456.77,278.91C458.33,278.67 460.00,278.62 461.79,278.91C463.58,279.19 465.61,279.91 467.52,280.62C469.43,281.34 471.34,282.37 473.25,283.20C475.16,284.04 477.07,284.87 478.98,285.64C480.89,286.40 482.80,287.07 484.71,287.79C486.62,288.50 488.53,289.34 490.44,289.94C492.35,290.53 494.26,291.01 496.17,291.37C498.08,291.73 499.99,291.97 501.90,292.09C503.81,292.21 505.72,292.28 507.63,292.09C509.54,291.89 511.69,291.37 513.36,290.94C515.04,290.51 516.47,289.91 517.66,289.51C518.86,289.10 520.05,288.67 520.53,288.50L520.53,288.50C520.58,289.58 520.62,292.21 520.87,294.95C521.11,297.70 521.65,302.95 522.01,304.98C522.37,307.01 522.37,306.94 523.01,307.13C523.66,307.32 525.04,306.48 525.88,306.13C526.72,305.77 527.48,306.60 528.03,304.98C528.58,303.36 528.82,298.96 529.17,296.38C529.53,293.81 529.84,290.75 530.18,289.51C530.51,288.27 530.82,288.03 531.18,288.93C531.54,289.84 531.85,293.28 532.33,294.95C532.80,296.62 533.33,298.01 534.05,298.96C534.76,299.92 535.84,300.99 536.62,300.68C537.41,300.37 538.18,298.77 538.77,297.10C539.37,295.43 539.80,292.01 540.21,290.65C540.61,289.29 540.80,288.46 541.21,288.93C541.62,289.41 542.09,292.16 542.64,293.52C543.19,294.88 543.72,296.19 544.50,297.10C545.29,298.01 546.53,299.32 547.37,298.96C548.21,298.60 548.92,296.57 549.52,294.95C550.12,293.33 550.52,290.34 550.95,289.22C551.38,288.10 551.67,287.62 552.10,288.22C552.53,288.81 552.96,291.44 553.53,292.80C554.10,294.16 554.77,295.55 555.54,296.38C556.30,297.22 557.40,298.17 558.11,297.82C558.83,297.46 559.31,295.79 559.83,294.23C560.36,292.68 560.84,289.70 561.27,288.50C561.70,287.31 561.98,286.59 562.41,287.07C562.84,287.55 563.25,290.01 563.85,291.37C564.44,292.73 565.23,294.35 565.99,295.24C566.76,296.12 567.79,297.08 568.43,296.67C569.07,296.26 569.43,294.52 569.86,292.80C570.29,291.08 570.63,287.67 571.01,286.36C571.39,285.04 571.72,284.33 572.15,284.92C572.58,285.52 573.06,288.46 573.59,289.94C574.11,291.42 574.59,292.92 575.31,293.81C576.02,294.69 577.22,295.64 577.89,295.24C578.55,294.83 578.91,292.97 579.32,291.37C579.72,289.77 579.99,286.83 580.32,285.64C580.66,284.45 580.92,283.61 581.32,284.21C581.73,284.80 582.21,287.79 582.76,289.22C583.31,290.65 583.95,291.89 584.62,292.80C585.29,293.71 586.17,295.14 586.77,294.66C587.36,294.19 587.79,291.61 588.20,289.94C588.61,288.27 588.87,285.71 589.20,284.64C589.54,283.56 589.80,282.85 590.21,283.49C590.61,284.13 591.07,287.07 591.64,288.50C592.21,289.94 592.90,291.20 593.64,292.09C594.38,292.97 595.48,294.28 596.08,293.81C596.68,293.33 596.87,290.82 597.23,289.22C597.58,287.62 597.92,285.21 598.23,284.21C598.54,283.20 598.71,282.61 599.09,283.20C599.47,283.80 599.95,286.43 600.52,287.79C601.09,289.15 601.83,290.46 602.53,291.37C603.22,292.28 604.13,293.71 604.68,293.23C605.23,292.75 605.46,290.25 605.82,288.50C606.18,286.76 606.49,283.90 606.83,282.77C607.16,281.65 607.42,281.05 607.83,281.77C608.23,282.49 608.71,285.59 609.26,287.07C609.81,288.55 610.53,289.77 611.12,290.65C611.72,291.54 612.32,292.97 612.84,292.37C613.37,291.78 613.85,288.67 614.28,287.07C614.70,285.47 614.99,283.73 615.42,282.77C615.85,281.82 616.62,281.58 616.85,281.34" fill="none" stroke="#ff80a0" stroke-width="2.0" stroke-linejoin="round" stroke-linecap="round" />
<path d="M68.30,294.53L68.75,294.66L69.19,295.02L69.64,295.55L70.09,296.18L70.54,296.81L70.98,297.35L71.43,297.70L71.88,297.83L72.29,297.63L72.70,297.07L73.11,296.27L73.52,295.38L73.93,294.57L74.34,294.02L74.74,293.82L75.16,293.94L75.57,294.28L75.98,294.79L76.39,295.39L76.80,296.00L77.22,296.51L77.63,296.85L78.04,296.97L78.49,296.76L78.94,296.19L79.39,295.35L79.84,294.43L80.29,293.60L80.74,293.02L81.19,292.81L81.64,292.95L82.09,293.34L82.54,293.92L82.98,294.60L83.43,295.29L83.88,295.87L84.33,296.26L84.77,296.40L85.19,296.24L85.60,295.81L86.01,295.16L86.42,294.39L86.83,293.62L87.24,292.97L87.66,292.54L88.07,292.38L88.52,292.56L88.97,293.06L89.42,293.78L89.87,294.57L90.32,295.29L90.77,295.79L91.22,295.97L91.67,295.82L92.12,295.40L92.56,294.77L93.01,294.03L93.46,293.29L93.91,292.66L94.35,292.24L94.80,292.10L95.25,292.24L95.70,292.66L96.15,293.29L96.59,294.03L97.04,294.77L97.49,295.40L97.94,295.82L98.38,295.97L98.79,295.86L99.19,295.56L99.59,295.08L99.99,294.48L100.39,293.82L100.79,293.15L101.19,292.55L101.59,292.08L101.99,291.77L102.40,291.67L102.83,291.77L103.26,292.05L103.68,292.49L104.11,293.03L104.54,293.60L104.97,294.14L105.40,294.58L105.83,294.86L106.26,294.96L106.69,294.84L107.12,294.49L107.55,293.96L107.98,293.31L108.41,292.61L108.84,291.95L109.27,291.42L109.70,291.07L110.13,290.95L110.53,291.04L110.93,291.29L111.34,291.69L111.74,292.19L112.14,292.74L112.54,293.30L112.94,293.79L113.34,294.19L113.74,294.45L114.14,294.53L114.54,294.44L114.95,294.16L115.35,293.74L115.75,293.20L116.15,292.60L116.55,292.00L116.95,291.46L117.35,291.03L117.75,290.76L118.15,290.66L118.58,290.77L119.01,291.07L119.44,291.52L119.87,292.09L120.30,292.68L120.73,293.24L121.16,293.70L121.59,294.00L122.02,294.10L122.45,293.96L122.88,293.57L123.31,292.96L123.74,292.21L124.17,291.41L124.60,290.66L125.03,290.05L125.46,289.66L125.89,289.52L126.29,289.61L126.69,289.86L127.09,290.26L127.50,290.76L127.90,291.31L128.30,291.86L128.70,292.36L129.10,292.76L129.50,293.01L129.90,293.10L130.35,292.97L130.80,292.62L131.25,292.08L131.69,291.45L132.14,290.82L132.59,290.29L133.04,289.93L133.48,289.81L133.91,289.90L134.34,290.19L134.77,290.63L135.20,291.17L135.63,291.74L136.06,292.28L136.49,292.71L136.92,293.00L137.35,293.10L137.75,293.00L138.15,292.69L138.56,292.21L138.96,291.62L139.36,290.95L139.76,290.29L140.16,289.69L140.56,289.21L140.96,288.91L141.36,288.80L141.77,288.91L142.17,289.21L142.57,289.69L142.97,290.29L143.37,290.95L143.77,291.62L144.17,292.21L144.57,292.69L144.97,293.00L145.38,293.10L145.81,292.95L146.23,292.51L146.66,291.85L147.09,291.03L147.52,290.16L147.95,289.34L148.38,288.67L148.81,288.24L149.24,288.09L149.69,288.25L150.14,288.72L150.59,289.41L151.03,290.23L151.48,291.06L151.93,291.75L152.38,292.22L152.83,292.38L153.27,292.25L153.72,291.86L154.17,291.28L154.62,290.59L155.06,289.91L155.51,289.33L155.96,288.94L156.41,288.80L156.85,288.89L157.30,289.16L157.75,289.55L158.20,290.02L158.65,290.49L159.09,290.88L159.54,291.15L159.99,291.24L160.40,291.07L160.81,290.59L161.22,289.90L161.63,289.14L162.04,288.45L162.44,287.97L162.85,287.80L163.43,287.58L164.01,287.37L164.44,287.52L164.87,287.96L165.30,288.62L165.73,289.44L166.16,290.31L166.59,291.13L167.02,291.80L167.45,292.23L167.88,292.38L168.29,292.18L168.70,291.59L169.12,290.70L169.53,289.66L169.94,288.62L170.35,287.74L170.76,287.15L171.17,286.94L171.60,287.10L172.03,287.54L172.46,288.23L172.89,289.07L173.32,289.97L173.75,290.81L174.18,291.49L174.61,291.94L175.04,292.10L175.49,291.89L175.94,291.30L176.39,290.42L176.83,289.38L177.28,288.33L177.73,287.45L178.18,286.86L178.62,286.65L179.03,286.77L179.43,287.09L179.83,287.60L180.23,288.24L180.63,288.95L181.03,289.65L181.43,290.29L181.83,290.80L182.23,291.13L182.64,291.24L183.07,291.06L183.50,290.57L183.93,289.82L184.36,288.95L184.79,288.07L185.21,287.32L185.64,286.83L186.07,286.65L186.48,286.77L186.88,287.09L187.28,287.60L187.68,288.24L188.08,288.95L188.48,289.65L188.88,290.29L189.28,290.80L189.68,291.13L190.09,291.24L190.53,291.05L190.98,290.52L191.43,289.73L191.88,288.80L192.32,287.87L192.77,287.08L193.22,286.55L193.67,286.37L194.10,286.51L194.53,286.94L194.96,287.58L195.39,288.38L195.82,289.23L196.25,290.02L196.68,290.67L197.11,291.09L197.54,291.24L197.95,291.09L198.36,290.67L198.78,290.02L199.19,289.23L199.61,288.38L200.02,287.58L200.43,286.94L200.85,286.51L201.26,286.37L201.69,286.51L202.12,286.94L202.55,287.58L202.98,288.38L203.41,289.23L203.84,290.02L204.27,290.67L204.70,291.09L205.13,291.24L205.56,291.09L205.99,290.67L206.42,290.02L206.85,289.23L207.28,288.38L207.71,287.58L208.14,286.94L208.57,286.51L209.00,286.37L209.00,286.37C209.31,286.77 210.07,287.99 210.86,288.80C211.65,289.61 212.65,290.52 213.72,291.24C214.80,291.95 215.99,292.55 217.31,293.10C218.62,293.65 219.93,294.13 221.60,294.53C223.28,294.94 225.19,295.23 227.34,295.54C229.48,295.85 231.87,296.16 234.50,296.40C237.13,296.63 240.23,296.85 243.09,296.97C245.96,297.09 249.54,297.04 251.69,297.11C253.84,297.18 254.21,297.35 256.00,297.40C257.79,297.45 261.13,297.80 262.45,297.40C263.76,296.99 263.33,295.56 263.88,294.96C264.43,294.37 265.03,293.82 265.74,293.82C266.46,293.82 267.17,294.60 268.18,294.96C269.18,295.32 270.21,295.68 271.76,295.97C273.31,296.25 274.15,296.47 277.49,296.68C280.83,296.90 285.85,297.14 291.82,297.26C297.79,297.37 306.14,297.33 313.31,297.40C320.47,297.47 330.35,297.62 334.80,297.68C339.25,297.75 337.22,297.75 340.00,297.82C342.78,297.89 347.88,297.91 351.46,298.10C355.04,298.29 359.10,298.65 361.49,298.96C363.88,299.27 364.36,299.56 365.79,299.97C367.22,300.37 368.41,300.97 370.09,301.40C371.76,301.83 373.91,302.31 375.82,302.54C377.73,302.78 380.11,302.90 381.55,302.83C382.98,302.76 383.70,302.71 384.41,302.11C385.13,301.52 385.37,300.56 385.85,299.25C386.32,297.94 386.68,296.15 387.28,294.23C387.87,292.32 388.59,289.82 389.43,287.79C390.26,285.76 391.22,283.61 392.29,282.06C393.37,280.51 394.68,279.24 395.87,278.48C397.07,277.71 398.26,277.47 399.46,277.47C400.65,277.47 401.72,277.83 403.04,278.48C404.35,279.12 405.66,280.15 407.34,281.34C409.01,282.53 411.16,284.09 413.07,285.64C414.98,287.19 416.89,288.98 418.80,290.65C420.71,292.32 422.62,294.00 424.53,295.67C426.44,297.34 428.59,299.25 430.26,300.68C431.93,302.11 433.24,303.12 434.56,304.26C435.87,305.41 437.18,306.53 438.14,307.56C439.09,308.59 439.22,309.78 440.30,310.42C441.37,311.07 441.73,311.24 444.60,311.43C447.46,311.62 452.95,311.50 457.49,311.57C462.03,311.64 467.04,311.76 471.82,311.86C476.59,311.95 481.37,312.02 486.14,312.14C490.92,312.26 496.41,312.41 500.47,312.57C504.53,312.74 507.63,313.03 510.50,313.15C513.36,313.27 516.41,313.34 517.66,313.29C518.91,313.24 517.47,313.05 518.00,312.86C518.53,312.67 519.79,312.55 520.87,312.14C521.94,311.74 523.01,310.90 524.45,310.42C525.88,309.95 528.27,309.76 529.46,309.28C530.66,308.80 531.09,308.51 531.61,307.56C532.14,306.60 532.21,304.34 532.61,303.55C533.02,302.76 533.38,302.83 534.05,302.83C534.71,302.83 535.72,303.24 536.62,303.55C537.53,303.86 538.65,304.93 539.49,304.69C540.33,304.45 540.97,302.83 541.64,302.11C542.31,301.40 542.79,300.51 543.50,300.40C544.22,300.28 544.81,300.87 545.94,301.40C547.06,301.92 549.04,303.67 550.23,303.55C551.43,303.43 552.22,301.45 553.10,300.68C553.98,299.92 554.70,299.01 555.54,298.96C556.37,298.91 557.21,299.82 558.11,300.40C559.02,300.97 560.07,302.54 560.98,302.40C561.89,302.26 562.79,300.30 563.56,299.54C564.32,298.77 564.80,297.82 565.56,297.82C566.33,297.82 567.24,298.94 568.14,299.54C569.05,300.13 570.17,301.57 571.01,301.40C571.84,301.23 572.49,299.37 573.16,298.53C573.83,297.70 574.30,296.38 575.02,296.38C575.74,296.38 576.64,297.86 577.46,298.53C578.27,299.20 579.10,300.56 579.89,300.40C580.68,300.23 581.51,298.32 582.18,297.53C582.85,296.74 583.26,295.62 583.90,295.67C584.55,295.72 585.34,297.17 586.05,297.82C586.77,298.46 587.48,299.77 588.20,299.54C588.92,299.30 589.68,297.15 590.35,296.38C591.02,295.62 591.50,294.83 592.21,294.95C592.93,295.07 593.88,296.43 594.65,297.10C595.41,297.77 596.08,299.08 596.80,298.96C597.51,298.84 598.28,297.10 598.95,296.38C599.61,295.67 600.16,294.62 600.81,294.66C601.45,294.71 602.05,296.03 602.81,296.67C603.58,297.32 604.60,298.70 605.39,298.53C606.18,298.37 606.83,296.50 607.54,295.67C608.26,294.83 608.97,293.52 609.69,293.52C610.41,293.52 611.17,295.00 611.84,295.67C612.51,296.34 613.11,297.46 613.70,297.53C614.30,297.60 614.85,296.41 615.42,296.10C615.99,295.79 616.85,295.74 617.14,295.67" fill="none" stroke="#0000ff" stroke-width="2.0" stroke-linejoin="round" stroke-linecap="round" />
<path d="M67.58,194.98C67.94,194.38 69.01,192.40 69.73,191.40C70.45,190.40 71.04,189.68 71.88,188.96C72.72,188.25 73.67,187.58 74.74,187.10C75.82,186.62 77.01,186.50 78.33,186.10C79.64,185.69 81.07,185.09 82.62,184.66C84.18,184.23 85.97,183.85 87.64,183.52C89.31,183.18 90.86,182.85 92.65,182.66C94.44,182.47 96.47,182.47 98.38,182.37C100.29,182.28 102.68,182.25 104.11,182.09C105.55,181.92 106.02,181.73 106.98,181.37C107.94,181.01 108.65,180.41 109.85,179.94C111.04,179.46 112.71,178.91 114.14,178.50C115.58,178.10 116.77,177.91 118.44,177.50C120.11,177.10 122.26,176.62 124.17,176.07C126.08,175.52 127.99,174.83 129.90,174.21C131.81,173.59 133.72,172.82 135.63,172.34C137.54,171.87 139.45,171.63 141.36,171.34C143.27,171.05 145.18,170.86 147.09,170.62C149.00,170.39 150.91,170.34 152.83,169.91C154.74,169.48 156.64,168.78 158.56,168.05C160.47,167.31 162.62,166.10 164.30,165.51C165.97,164.92 166.92,164.79 168.60,164.50C170.27,164.22 172.18,163.96 174.33,163.79C176.48,163.62 179.10,163.50 181.49,163.50C183.88,163.50 186.27,163.69 188.65,163.79C191.04,163.88 193.67,164.07 195.82,164.07C197.97,164.07 199.88,164.07 201.55,163.79C203.22,163.50 204.41,162.88 205.85,162.36C207.28,161.83 208.47,161.35 210.14,160.64C211.81,159.92 213.96,158.82 215.87,158.06C217.78,157.29 219.69,156.65 221.60,156.05C223.51,155.45 225.43,154.91 227.34,154.48C229.25,154.05 231.16,153.74 233.07,153.47C234.98,153.21 236.89,153.14 238.80,152.90C240.71,152.66 242.62,152.37 244.53,152.04C246.44,151.71 248.35,151.13 250.26,150.89C252.17,150.66 254.32,150.82 255.99,150.61C257.66,150.40 258.86,150.09 260.30,149.64C261.73,149.19 262.92,148.52 264.60,147.92C266.27,147.33 268.18,146.73 270.33,146.06C272.48,145.39 275.10,144.44 277.49,143.91C279.88,143.39 282.27,143.36 284.65,142.91C287.04,142.45 289.43,141.79 291.82,141.19C294.20,140.59 296.59,139.92 298.98,139.33C301.37,138.73 303.76,138.18 306.14,137.61C308.53,137.03 311.16,136.37 313.31,135.89C315.46,135.41 317.37,135.03 319.04,134.74C320.71,134.46 321.90,134.22 323.34,134.17C324.77,134.12 325.72,134.36 327.63,134.46C329.54,134.55 332.74,134.65 334.80,134.74C336.86,134.84 336.74,134.93 340.00,135.03C343.26,135.12 350.51,135.24 354.33,135.32C358.15,135.39 359.34,135.27 362.92,135.46C366.50,135.65 371.28,136.15 375.82,136.46C380.35,136.77 385.37,137.08 390.14,137.32C394.92,137.56 399.69,137.68 404.47,137.89C409.25,138.11 414.02,138.37 418.80,138.61C423.57,138.85 429.59,139.16 433.12,139.33C436.66,139.49 432.19,139.26 440.00,139.61C447.81,139.97 469.99,140.94 480.00,141.45C490.01,141.95 493.37,142.21 500.06,142.65C506.74,143.08 513.43,143.65 520.11,144.05C526.80,144.45 533.48,144.76 540.17,145.06C546.85,145.36 553.54,145.59 560.22,145.86C566.91,146.13 573.60,146.39 580.28,146.66C586.97,146.93 594.15,147.20 600.34,147.46C606.52,147.73 614.54,148.13 617.38,148.27" fill="none" stroke="#aa0000" stroke-width="2.0" stroke-linejoin="round" stroke-linecap="round" />
<path d="M67.58,202.86C67.94,202.38 69.01,201.02 69.73,199.99C70.45,198.97 71.04,197.77 71.88,196.70C72.72,195.62 73.67,194.55 74.74,193.55C75.82,192.54 77.01,191.52 78.33,190.68C79.64,189.85 81.07,189.13 82.62,188.53C84.18,187.94 85.97,187.51 87.64,187.10C89.31,186.69 91.10,186.31 92.65,186.10C94.21,185.88 95.76,185.81 96.95,185.81C98.15,185.81 98.86,185.88 99.82,186.10C100.77,186.31 101.85,186.86 102.68,187.10C103.52,187.34 104.11,187.58 104.83,187.53C105.55,187.48 105.91,187.24 106.98,186.81C108.05,186.38 109.85,185.50 111.28,184.95C112.71,184.40 114.14,184.00 115.58,183.52C117.01,183.04 118.44,182.61 119.87,182.09C121.31,181.56 122.50,180.96 124.17,180.37C125.84,179.77 127.99,179.13 129.90,178.50C131.81,177.88 133.72,177.24 135.63,176.64C137.54,176.04 139.45,175.45 141.36,174.92C143.27,174.40 145.18,173.85 147.09,173.49C149.00,173.13 150.91,173.13 152.83,172.77C154.74,172.42 156.64,171.76 158.56,171.34C160.47,170.92 162.62,170.73 164.30,170.23C165.97,169.74 167.16,168.85 168.60,168.37C170.03,167.89 171.46,167.54 172.89,167.37C174.33,167.20 175.76,167.20 177.19,167.37C178.62,167.54 179.94,168.09 181.49,168.37C183.04,168.66 184.83,169.09 186.50,169.09C188.18,169.09 189.73,168.66 191.52,168.37C193.31,168.09 195.34,167.66 197.25,167.37C199.16,167.08 201.31,166.89 202.98,166.65C204.65,166.41 205.85,166.37 207.28,165.94C208.71,165.51 209.90,164.79 211.58,164.07C213.25,163.36 215.40,162.40 217.31,161.64C219.22,160.87 221.13,160.09 223.04,159.49C224.95,158.89 226.86,158.46 228.77,158.06C230.68,157.65 232.59,157.34 234.50,157.05C236.41,156.77 238.32,156.60 240.23,156.34C242.14,156.08 244.05,155.72 245.96,155.48C247.87,155.24 250.02,155.05 251.69,154.91C253.36,154.76 254.55,154.71 255.99,154.62C257.42,154.53 258.86,154.65 260.30,154.37C261.73,154.09 262.92,153.49 264.60,152.94C266.27,152.39 268.18,151.79 270.33,151.07C272.48,150.36 275.10,149.36 277.49,148.64C279.88,147.92 282.27,147.37 284.65,146.78C287.04,146.18 289.43,145.63 291.82,145.06C294.20,144.48 296.59,143.86 298.98,143.34C301.37,142.81 303.76,142.41 306.14,141.91C308.53,141.40 311.16,140.81 313.31,140.33C315.46,139.85 317.49,139.33 319.04,139.04C320.59,138.75 321.54,138.63 322.62,138.61C323.69,138.59 324.65,138.66 325.48,138.90C326.32,139.14 326.56,139.61 327.63,140.04C328.71,140.47 330.50,141.07 331.93,141.48C333.36,141.88 334.88,142.24 336.23,142.48C337.57,142.72 338.18,142.36 340.00,142.91C341.82,143.46 344.78,144.87 347.16,145.77C349.55,146.68 352.18,147.56 354.33,148.35C356.48,149.14 358.39,150.02 360.06,150.50C361.73,150.98 362.45,151.05 364.36,151.22C366.27,151.38 368.41,151.41 371.52,151.50C374.62,151.60 378.68,151.70 382.98,151.79C387.28,151.89 392.53,152.01 397.31,152.08C402.08,152.15 406.86,152.15 411.63,152.22C416.41,152.29 421.23,152.44 425.96,152.51C430.69,152.58 430.99,152.39 440.00,152.65C449.01,152.91 469.99,153.78 480.00,154.08C490.01,154.39 494.04,154.32 500.06,154.48C506.07,154.65 512.59,154.92 516.10,155.08C519.61,155.25 519.95,155.15 521.12,155.49C522.29,155.82 522.45,155.99 523.12,157.09C523.79,158.19 524.29,160.43 525.13,162.10C525.96,163.78 526.96,165.61 528.13,167.12C529.30,168.62 530.47,169.79 532.15,171.13C533.82,172.47 535.82,173.74 538.16,175.14C540.50,176.54 543.18,178.05 546.19,179.55C549.19,181.06 552.87,182.66 556.21,184.17C559.56,185.67 562.90,187.14 566.24,188.58C569.58,190.02 572.93,191.42 576.27,192.79C579.61,194.16 582.95,195.46 586.30,196.80C589.64,198.14 592.98,199.54 596.33,200.81C599.67,202.08 602.84,203.29 606.35,204.42C609.86,205.56 615.55,207.10 617.38,207.63" fill="none" stroke="#880088" stroke-width="2.0" stroke-linejoin="round" stroke-linecap="round" />
<path d="M67.62,338.48L69.00,338.63L70.38,338.94L71.77,338.75L73.15,338.87L74.53,339.01L75.91,338.85L77.29,339.14L78.67,339.30L80.06,339.49L81.49,339.12L82.92,339.31L84.35,339.24L85.79,339.73L87.22,339.71L88.65,339.38L90.08,340.00L91.52,340.13L92.95,340.09L94.38,340.21L95.81,340.08L97.25,340.14L98.68,340.59L100.11,340.45L101.54,340.64L102.98,340.79L104.41,340.78L105.84,341.15L107.28,341.25L108.71,341.61L110.14,341.53L111.57,341.69L113.01,341.69L114.44,341.87L115.87,341.83L117.30,341.81L118.74,342.33L120.17,342.42L121.60,342.47L123.03,342.53L124.47,342.44L125.90,342.53L127.33,342.71L128.76,342.72L130.20,343.28L131.63,343.18L133.06,343.56L134.49,343.40L135.93,343.85L137.36,343.90L138.79,343.51L140.22,343.75L141.66,344.31L143.09,344.19L144.52,344.64L145.95,344.43L147.39,344.38L148.82,344.86L150.25,345.09L151.69,344.90L153.12,344.91L154.55,345.17L155.98,345.66L157.42,345.65L158.85,345.38L160.28,345.58L161.71,345.57L163.15,345.64L164.58,346.16L166.01,345.88L167.44,346.19L168.88,346.21L170.31,346.14L171.74,346.55L173.17,346.28L174.61,346.67L176.04,346.44L177.47,346.71L178.90,346.67L180.34,346.79L181.77,347.30L183.20,347.29L184.63,347.07L186.07,347.51L187.50,347.19L188.93,347.38L190.37,347.75L191.74,347.65L193.12,347.35L194.49,347.91L195.87,347.48L197.24,347.53L198.62,347.87L199.99,347.63L201.52,347.57L203.04,347.40L204.57,347.37L206.10,347.62L207.62,347.38L209.03,344.18L210.53,342.84L212.03,341.69L213.37,341.32L214.71,340.37L216.04,339.76L217.65,341.34L218.65,342.93L220.06,339.50L221.56,338.95L223.06,337.90L224.40,337.15L225.74,336.72L227.08,336.65L228.48,336.57L229.88,335.92L231.29,336.17L232.69,335.93L234.10,335.56L235.43,335.29L236.77,334.93L238.11,334.72L239.44,335.11L240.78,334.51L242.12,334.62L243.46,334.28L244.79,334.56L246.13,334.35L247.47,334.11L248.80,333.97L250.14,334.23L251.74,334.84L252.55,337.54L253.85,337.94L255.15,338.32L256.83,337.91L258.50,337.44L260.17,337.55L261.51,336.93L262.84,336.61L264.18,336.56L265.52,336.47L266.85,336.04L268.19,335.91L269.53,335.79L270.87,335.68L272.20,335.18L273.54,335.08L274.88,335.17L276.21,334.99L277.55,334.56L278.89,334.34L280.22,334.05L281.56,333.55L282.90,333.25L284.24,333.00L285.57,333.67L286.91,333.68L288.25,333.97L289.58,332.87L290.92,332.71L292.26,332.08L293.60,331.96L294.93,331.45L296.27,331.59L297.61,330.77L298.94,330.78L300.28,330.63L301.62,330.52L302.95,330.23L304.29,330.01L305.63,329.86L306.97,329.73L308.30,329.19L309.64,329.19L310.98,329.12L312.31,328.90L313.65,328.43L314.99,328.45L316.33,328.30L317.83,327.72L319.33,327.35L320.84,326.80L322.34,326.52L323.85,326.54L325.35,326.22L326.86,326.56L328.36,326.77L329.86,327.30L331.37,327.81L332.87,326.61L334.38,325.81L335.88,325.32L337.38,324.83L338.69,325.47L339.99,325.42L341.43,324.79L342.87,323.32L344.30,323.43L345.73,323.12L347.16,322.73L348.60,322.67L350.03,322.22L351.46,321.95L352.89,321.92L354.33,321.31L355.76,320.95L357.19,320.91L358.62,320.88L360.06,320.35L361.49,320.08L362.92,320.27L364.36,319.94L365.79,319.63L367.22,319.72L368.65,319.20L370.09,320.12L371.52,320.56L372.95,320.22L374.38,319.97L375.82,319.56L377.25,319.18L378.68,318.52L380.11,318.28L381.55,317.76L382.98,317.58L384.41,317.73L385.85,317.86L387.28,317.80L388.71,317.36L390.14,317.14L391.58,316.38L393.01,315.96L394.44,315.91L395.87,315.59L397.31,315.34L398.74,315.24L400.17,315.30L401.60,315.15L403.04,314.97L404.47,315.21L405.90,315.12L407.34,314.62L408.77,314.22L410.20,314.01L411.63,314.28L413.07,313.54L414.50,313.70L415.93,313.69L417.36,313.60L418.80,313.97L420.23,313.57L421.66,313.64L423.09,313.84L424.53,313.58L425.96,314.06L427.39,313.56L428.83,313.36L430.26,313.16L431.69,313.37L433.12,312.68L434.56,312.22L436.70,312.95L438.14,315.91L439.58,317.00L441.01,317.05L442.45,316.98L444.60,318.15L446.03,317.68L447.46,317.29L448.89,317.57L450.33,317.72L451.76,317.39L453.19,317.45L454.62,317.35L456.06,317.42L457.49,317.17L458.92,317.43L460.36,317.71L461.79,317.70L463.22,318.14L464.65,318.40L466.09,318.08L467.52,318.76L468.95,318.81L470.38,318.63L471.82,318.99L473.25,319.30L474.68,319.67L476.11,319.55L477.55,319.86L478.98,320.25L480.41,320.38L481.85,320.65L483.28,320.54L484.71,320.83L486.14,320.38L487.58,320.51L489.01,320.39L490.44,320.11L491.87,320.33L493.31,320.21L494.74,320.80L496.17,321.03L497.60,321.17L499.04,321.05L500.47,321.34L501.90,321.20L503.34,321.70L504.77,321.81L506.20,321.65L507.63,321.64L509.07,321.99L510.50,322.20L511.93,322.51L513.36,322.52L514.80,322.43L516.23,323.07L517.66,322.98L519.09,323.78L520.53,323.77L521.96,324.22L523.39,324.78L524.83,324.68L526.26,324.97L527.69,325.48L529.12,325.89L530.50,326.16L531.87,326.27L533.25,326.62L534.62,326.55L536.00,327.03L537.39,326.82L538.78,327.20L540.17,327.69L541.60,327.67L543.03,328.04L544.47,328.10L545.90,328.15L547.33,328.46L548.76,328.40L550.20,328.37L551.63,328.69L553.06,329.26L554.49,329.58L555.93,329.45L557.36,330.12L558.79,330.48L560.22,330.50L561.66,330.82L563.09,330.88L564.52,331.37L565.95,331.63L567.39,331.98L568.82,331.92L570.25,332.77L571.69,332.73L573.12,332.89L574.55,333.36L575.98,333.45L577.42,333.63L578.85,333.98L580.28,333.84L581.78,334.42L583.29,334.65L584.79,335.27L586.30,335.55L587.80,335.36L589.31,335.68L590.81,335.68L592.31,336.06L593.65,336.02L594.99,335.81L596.33,335.28L597.66,335.12L599.00,334.98L600.34,335.17L602.34,336.36L603.85,336.13L605.35,336.77L606.86,336.57L608.36,336.92L609.70,337.41L611.03,338.15L612.37,338.40L613.87,337.72L615.38,337.18L617.38,337.47" fill="none" stroke="#0000ff" stroke-width="2.0" stroke-linejoin="round" stroke-linecap="round" />
<path d="M367.51,308.85L374.38,308.85L440.00,309.28L450.33,309.28L520.53,310.42" fill="none" stroke="#ff0000" stroke-width="2.2" stroke-linejoin="round" stroke-linecap="round" />
<path d="M67.58,282.36L68.59,282.33L69.61,282.31L70.62,282.28L71.63,282.26L72.64,282.23L73.65,282.21L74.67,282.18L75.68,282.16L76.69,282.13L77.70,282.11L78.72,282.08L79.73,282.06L80.74,282.03L81.75,282.01L82.76,281.98L83.78,281.96L84.79,281.93L85.80,281.91L86.81,281.88L87.83,281.86L88.84,281.83L89.85,281.81L90.86,281.78L91.87,281.76L92.89,281.73L93.90,281.71L94.91,281.68L95.92,281.66L96.94,281.63L97.95,281.61L98.96,281.58L99.97,281.56L100.98,281.53L102.00,281.51L103.01,281.48L104.02,281.46L105.03,281.43L106.05,281.41L107.06,281.38L108.07,281.36L109.08,281.33L110.09,281.31L111.11,281.28L112.12,281.26L113.13,281.23L114.14,281.21L115.16,281.18L116.18,281.16L117.20,281.13L118.21,281.10L119.23,281.08L120.25,281.05L121.27,281.02L122.28,281.00L123.30,280.97L124.32,280.95L125.34,280.92L126.35,280.89L127.37,280.87L128.39,280.84L129.41,280.81L130.42,280.79L131.44,280.76L132.46,280.74L133.48,280.71L134.49,280.68L135.51,280.66L136.53,280.63L137.55,280.60L138.56,280.58L139.58,280.55L140.60,280.52L141.62,280.50L142.63,280.47L143.65,280.45L144.67,280.42L145.69,280.39L146.70,280.37L147.72,280.34L148.74,280.31L149.76,280.29L150.77,280.26L151.79,280.24L152.81,280.21L153.83,280.18L154.84,280.16L155.86,280.13L156.88,280.10L157.90,280.08L158.91,280.05L159.93,280.03L160.95,280.00L161.97,279.97L162.98,279.95L164.00,279.92L165.03,279.95L166.07,279.98L167.10,280.01L168.13,280.03L169.16,280.06L170.20,280.09L171.23,280.12L172.26,280.15L173.29,280.18L174.33,280.21L175.35,280.21L176.37,280.21L177.40,280.21L178.42,280.21L179.44,280.21L180.47,280.21L181.49,280.21L182.51,280.21L183.54,280.21L184.56,280.21L185.58,280.21L186.61,280.21L187.63,280.21L188.65,280.21L189.68,280.21L190.70,280.21L191.72,280.21L192.75,280.21L193.77,280.21L194.79,280.21L195.82,280.21L196.84,280.21L197.86,280.21L198.89,280.21L199.91,280.21L200.93,280.21L201.96,280.21L202.98,280.21L204.00,280.21L205.03,280.21L206.05,280.21L207.07,280.21L208.10,280.21L209.12,280.21L210.14,280.21L211.17,280.27L212.19,280.33L213.21,280.39L214.24,280.45L215.26,280.51L216.28,280.57L217.31,280.64L218.33,280.72L219.35,280.80L220.38,280.88L221.40,280.96L222.42,281.05L223.45,281.13L224.47,281.21L225.49,281.21L226.52,281.21L227.54,281.21L228.56,281.21L229.59,281.21L230.61,281.21L231.63,281.21L232.66,281.17L233.68,281.13L234.70,281.09L235.73,281.05L236.75,281.00L237.77,280.96L238.80,280.92L239.82,280.78L240.84,280.64L241.87,280.49L242.89,280.35L243.91,280.21L244.94,280.06L245.96,279.92L247.00,279.91L248.04,279.90L249.09,279.89L250.13,279.88L251.17,279.88L252.21,279.87L253.25,279.86L254.30,279.85L255.34,279.84L256.38,279.83L257.42,279.82L258.50,279.87L259.58,279.91L260.65,279.95L261.73,279.99L262.81,280.18L263.88,280.37L264.95,280.55L266.03,280.74L267.46,280.17L268.89,279.61L269.97,279.53L271.04,279.44L272.12,279.36L273.19,279.28L274.27,279.20L275.34,279.11L276.42,279.03L277.49,278.95L278.51,278.90L279.54,278.86L280.56,278.81L281.58,278.77L282.61,278.72L283.63,278.68L284.65,278.63L285.68,278.59L286.70,278.54L287.72,278.50L288.75,278.46L289.77,278.41L290.79,278.37L291.82,278.32L292.84,278.31L293.86,278.29L294.89,278.28L295.91,278.27L296.93,278.25L297.96,278.24L298.98,278.22L300.00,278.21L301.03,278.20L302.05,278.18L303.07,278.17L304.10,278.15L305.12,278.14L306.14,278.13L307.17,278.10L308.19,278.08L309.21,278.05L310.24,278.03L311.26,278.00L312.28,277.98L313.31,277.96L314.33,277.93L315.35,277.91L316.38,277.88L317.40,277.86L318.42,277.83L319.45,277.81L320.47,277.79L321.47,277.75L322.48,277.71L323.48,277.68L324.48,277.64L325.48,277.60L326.49,277.57L327.49,277.53L328.49,277.49L329.50,277.46" fill="none" stroke="#00ff00" stroke-width="2.9" stroke-linejoin="round" stroke-linecap="round" />
<path d="M328.49,277.49L329.50,277.46L330.50,277.42L331.54,277.44L332.58,277.46L333.62,277.48L334.67,277.50L335.71,277.52L336.75,277.54L337.79,277.56L338.83,277.58L339.88,277.60L340.92,277.62L341.96,277.64L342.99,277.62L344.03,277.61L345.06,277.59L346.10,277.58L347.13,277.57L348.16,277.55L349.20,277.54L350.23,277.52L351.26,277.51L352.30,277.50L353.33,277.48L354.37,277.47L355.40,277.45L356.43,277.44L357.47,277.43L358.50,277.41L359.53,277.40L360.57,277.38L361.60,277.37L362.64,277.36L363.35,279.79L363.78,288.39L364.21,298.42L364.93,305.58L366.07,308.16L367.51,308.88L368.37,309.02" fill="none" stroke="#00ff00" stroke-width="2.3" stroke-linejoin="round" stroke-linecap="round" />
<path d="M370.90,308.20L371.80,306.80L372.70,308.20" fill="none" stroke="#00ff00" stroke-width="1.6" stroke-linejoin="round" stroke-linecap="round" />
<path d="M521.15,291.37L522.01,284.92L523.44,279.19L525.88,277.47L529.46,276.76L546.65,276.61L575.31,276.76L589.63,277.19L603.96,276.90L617.14,276.90" fill="none" stroke="#00ff00" stroke-width="2.9" stroke-linejoin="round" stroke-linecap="round" />
</g>
<line x1="67.5" y1="383.35" x2="617.3" y2="383.35" stroke="#ff00ff" stroke-width="2.6"/>
<g shape-rendering="crispEdges" fill="none">
<line x1="66" y1="366.5" x2="619" y2="366.5" stroke="#8f8f8f" stroke-opacity="0.25" stroke-width="1"/>
<line x1="66" y1="332.5" x2="619" y2="332.5" stroke="#8f8f8f" stroke-opacity="0.25" stroke-width="1"/>
<line x1="66" y1="298.5" x2="619" y2="298.5" stroke="#8f8f8f" stroke-opacity="0.25" stroke-width="1"/>
<line x1="66" y1="264.5" x2="619" y2="264.5" stroke="#8f8f8f" stroke-opacity="0.25" stroke-width="1"/>
<line x1="66" y1="230.5" x2="619" y2="230.5" stroke="#8f8f8f" stroke-opacity="0.25" stroke-width="1"/>
<line x1="66" y1="196.5" x2="619" y2="196.5" stroke="#8f8f8f" stroke-opacity="0.25" stroke-width="1"/>
<line x1="66" y1="162.5" x2="619" y2="162.5" stroke="#8f8f8f" stroke-opacity="0.25" stroke-width="1"/>
<line x1="66" y1="128.5" x2="619" y2="128.5" stroke="#8f8f8f" stroke-opacity="0.25" stroke-width="1"/>
<line x1="66" y1="94.5" x2="619" y2="94.5" stroke="#8f8f8f" stroke-opacity="0.25" stroke-width="1"/>
<line x1="66" y1="60.5" x2="619" y2="60.5" stroke="#8f8f8f" stroke-opacity="0.25" stroke-width="1"/>
<line x1="84.5" y1="32" x2="84.5" y2="385" stroke="#8f8f8f" stroke-opacity="0.25" stroke-width="1"/>
<line x1="95.5" y1="32" x2="95.5" y2="385" stroke="#8f8f8f" stroke-opacity="0.25" stroke-width="1"/>
<line x1="107.5" y1="32" x2="107.5" y2="385" stroke="#8f8f8f" stroke-opacity="0.25" stroke-width="1"/>
<line x1="130.5" y1="32" x2="130.5" y2="385" stroke="#8f8f8f" stroke-opacity="0.25" stroke-width="1"/>
<line x1="141.5" y1="32" x2="141.5" y2="385" stroke="#8f8f8f" stroke-opacity="0.25" stroke-width="1"/>
<line x1="152.5" y1="32" x2="152.5" y2="385" stroke="#8f8f8f" stroke-opacity="0.25" stroke-width="1"/>
<line x1="175.5" y1="32" x2="175.5" y2="385" stroke="#8f8f8f" stroke-opacity="0.25" stroke-width="1"/>
<line x1="187.5" y1="32" x2="187.5" y2="385" stroke="#8f8f8f" stroke-opacity="0.25" stroke-width="1"/>
<line x1="198.5" y1="32" x2="198.5" y2="385" stroke="#8f8f8f" stroke-opacity="0.25" stroke-width="1"/>
<line x1="221.5" y1="32" x2="221.5" y2="385" stroke="#8f8f8f" stroke-opacity="0.25" stroke-width="1"/>
<line x1="233.5" y1="32" x2="233.5" y2="385" stroke="#8f8f8f" stroke-opacity="0.25" stroke-width="1"/>
<line x1="244.5" y1="32" x2="244.5" y2="385" stroke="#8f8f8f" stroke-opacity="0.25" stroke-width="1"/>
<line x1="267.5" y1="32" x2="267.5" y2="385" stroke="#8f8f8f" stroke-opacity="0.25" stroke-width="1"/>
<line x1="279.5" y1="32" x2="279.5" y2="385" stroke="#8f8f8f" stroke-opacity="0.25" stroke-width="1"/>
<line x1="290.5" y1="32" x2="290.5" y2="385" stroke="#8f8f8f" stroke-opacity="0.25" stroke-width="1"/>
<line x1="313.5" y1="32" x2="313.5" y2="385" stroke="#8f8f8f" stroke-opacity="0.25" stroke-width="1"/>
<line x1="324.5" y1="32" x2="324.5" y2="385" stroke="#8f8f8f" stroke-opacity="0.25" stroke-width="1"/>
<line x1="336.5" y1="32" x2="336.5" y2="385" stroke="#8f8f8f" stroke-opacity="0.25" stroke-width="1"/>
<line x1="359.5" y1="32" x2="359.5" y2="385" stroke="#8f8f8f" stroke-opacity="0.25" stroke-width="1"/>
<line x1="370.5" y1="32" x2="370.5" y2="385" stroke="#8f8f8f" stroke-opacity="0.25" stroke-width="1"/>
<line x1="382.5" y1="32" x2="382.5" y2="385" stroke="#8f8f8f" stroke-opacity="0.25" stroke-width="1"/>
<line x1="405.5" y1="32" x2="405.5" y2="385" stroke="#8f8f8f" stroke-opacity="0.25" stroke-width="1"/>
<line x1="416.5" y1="32" x2="416.5" y2="385" stroke="#8f8f8f" stroke-opacity="0.25" stroke-width="1"/>
<line x1="427.5" y1="32" x2="427.5" y2="385" stroke="#8f8f8f" stroke-opacity="0.25" stroke-width="1"/>
<line x1="450.5" y1="32" x2="450.5" y2="385" stroke="#8f8f8f" stroke-opacity="0.25" stroke-width="1"/>
<line x1="462.5" y1="32" x2="462.5" y2="385" stroke="#8f8f8f" stroke-opacity="0.25" stroke-width="1"/>
<line x1="473.5" y1="32" x2="473.5" y2="385" stroke="#8f8f8f" stroke-opacity="0.25" stroke-width="1"/>
<line x1="496.5" y1="32" x2="496.5" y2="385" stroke="#8f8f8f" stroke-opacity="0.25" stroke-width="1"/>
<line x1="508.5" y1="32" x2="508.5" y2="385" stroke="#8f8f8f" stroke-opacity="0.25" stroke-width="1"/>
<line x1="519.5" y1="32" x2="519.5" y2="385" stroke="#8f8f8f" stroke-opacity="0.25" stroke-width="1"/>
<line x1="542.5" y1="32" x2="542.5" y2="385" stroke="#8f8f8f" stroke-opacity="0.25" stroke-width="1"/>
<line x1="554.5" y1="32" x2="554.5" y2="385" stroke="#8f8f8f" stroke-opacity="0.25" stroke-width="1"/>
<line x1="565.5" y1="32" x2="565.5" y2="385" stroke="#8f8f8f" stroke-opacity="0.25" stroke-width="1"/>
<line x1="588.5" y1="32" x2="588.5" y2="385" stroke="#8f8f8f" stroke-opacity="0.25" stroke-width="1"/>
<line x1="599.5" y1="32" x2="599.5" y2="385" stroke="#8f8f8f" stroke-opacity="0.25" stroke-width="1"/>
<line x1="611.5" y1="32" x2="611.5" y2="385" stroke="#8f8f8f" stroke-opacity="0.25" stroke-width="1"/>
<line x1="65" y1="383.5" x2="620" y2="383.5" stroke="#de4f4f" stroke-opacity="0.37" stroke-width="1"/>
<line x1="65" y1="349.5" x2="620" y2="349.5" stroke="#de4f4f" stroke-opacity="0.37" stroke-width="1"/>
<line x1="65" y1="315.5" x2="620" y2="315.5" stroke="#de4f4f" stroke-opacity="0.37" stroke-width="1"/>
<line x1="65" y1="281.5" x2="620" y2="281.5" stroke="#de4f4f" stroke-opacity="0.37" stroke-width="1"/>
<line x1="65" y1="247.5" x2="620" y2="247.5" stroke="#de4f4f" stroke-opacity="0.37" stroke-width="1"/>
<line x1="65" y1="213.5" x2="620" y2="213.5" stroke="#de4f4f" stroke-opacity="0.37" stroke-width="1"/>
<line x1="65" y1="179.5" x2="620" y2="179.5" stroke="#de4f4f" stroke-opacity="0.37" stroke-width="1"/>
<line x1="65" y1="145.5" x2="620" y2="145.5" stroke="#de4f4f" stroke-opacity="0.37" stroke-width="1"/>
<line x1="65" y1="111.5" x2="620" y2="111.5" stroke="#de4f4f" stroke-opacity="0.37" stroke-width="1"/>
<line x1="65" y1="77.5" x2="620" y2="77.5" stroke="#de4f4f" stroke-opacity="0.37" stroke-width="1"/>
<line x1="65" y1="43.5" x2="620" y2="43.5" stroke="#de4f4f" stroke-opacity="0.37" stroke-width="1"/>
<line x1="72.5" y1="31" x2="72.5" y2="386" stroke="#de4f4f" stroke-opacity="0.37" stroke-width="1"/>
<line x1="118.5" y1="31" x2="118.5" y2="386" stroke="#de4f4f" stroke-opacity="0.37" stroke-width="1"/>
<line x1="164.5" y1="31" x2="164.5" y2="386" stroke="#de4f4f" stroke-opacity="0.37" stroke-width="1"/>
<line x1="210.5" y1="31" x2="210.5" y2="386" stroke="#de4f4f" stroke-opacity="0.37" stroke-width="1"/>
<line x1="256.5" y1="31" x2="256.5" y2="386" stroke="#de4f4f" stroke-opacity="0.37" stroke-width="1"/>
<line x1="301.5" y1="31" x2="301.5" y2="386" stroke="#de4f4f" stroke-opacity="0.37" stroke-width="1"/>
<line x1="347.5" y1="31" x2="347.5" y2="386" stroke="#de4f4f" stroke-opacity="0.37" stroke-width="1"/>
<line x1="393.5" y1="31" x2="393.5" y2="386" stroke="#de4f4f" stroke-opacity="0.37" stroke-width="1"/>
<line x1="439.5" y1="31" x2="439.5" y2="386" stroke="#de4f4f" stroke-opacity="0.37" stroke-width="1"/>
<line x1="485.5" y1="31" x2="485.5" y2="386" stroke="#de4f4f" stroke-opacity="0.37" stroke-width="1"/>
<line x1="531.5" y1="31" x2="531.5" y2="386" stroke="#de4f4f" stroke-opacity="0.37" stroke-width="1"/>
<line x1="576.5" y1="31" x2="576.5" y2="386" stroke="#de4f4f" stroke-opacity="0.37" stroke-width="1"/>
</g>
<g shape-rendering="crispEdges">
<line x1="63" y1="383.5" x2="621" y2="383.5" stroke="#1f1f1f" stroke-opacity="0.62" stroke-width="1"/>
<line x1="67.5" y1="29" x2="67.5" y2="388" stroke="#1f1f1f" stroke-opacity="0.64" stroke-width="1"/>
<line x1="617.5" y1="29" x2="617.5" y2="388" stroke="#1f1f1f" stroke-opacity="0.64" stroke-width="1"/>
</g>

<polygon points="619,380 619,386 624.5,383.3" fill="#802020"/>
<polygon points="64.8,31 70.2,31 67.5,26" fill="#802020"/>
<polygon points="615,31 620.2,31 617.6,26" fill="#802020"/>
<g font-family="'DejaVu Sans Mono', 'Liberation Mono', monospace" fill="#000" stroke="#000" stroke-width="0.16" opacity="0.999">
<text x="351" y="21" text-anchor="middle" font-size="12.5" letter-spacing="0.475" xml:space="preserve">Temperaturverlauf und Fuellstand am: 10.05.2023</text>
<text x="60.4" y="387" text-anchor="end" font-size="9.72" letter-spacing="0.148">0</text>
<text x="654.6" y="387" text-anchor="end" font-size="9.72" letter-spacing="0.148">0</text>
<text x="60.4" y="353" text-anchor="end" font-size="9.72" letter-spacing="0.148">10</text>
<text x="654.6" y="353" text-anchor="end" font-size="9.72" letter-spacing="0.148">10</text>
<text x="60.4" y="319" text-anchor="end" font-size="9.72" letter-spacing="0.148">20</text>
<text x="654.6" y="319" text-anchor="end" font-size="9.72" letter-spacing="0.148">20</text>
<text x="60.4" y="285" text-anchor="end" font-size="9.72" letter-spacing="0.148">30</text>
<text x="654.6" y="285" text-anchor="end" font-size="9.72" letter-spacing="0.148">30</text>
<text x="60.4" y="251" text-anchor="end" font-size="9.72" letter-spacing="0.148">40</text>
<text x="654.6" y="251" text-anchor="end" font-size="9.72" letter-spacing="0.148">40</text>
<text x="60.4" y="217" text-anchor="end" font-size="9.72" letter-spacing="0.148">50</text>
<text x="654.6" y="217" text-anchor="end" font-size="9.72" letter-spacing="0.148">50</text>
<text x="60.4" y="183" text-anchor="end" font-size="9.72" letter-spacing="0.148">60</text>
<text x="654.6" y="183" text-anchor="end" font-size="9.72" letter-spacing="0.148">60</text>
<text x="60.4" y="149" text-anchor="end" font-size="9.72" letter-spacing="0.148">70</text>
<text x="654.6" y="149" text-anchor="end" font-size="9.72" letter-spacing="0.148">70</text>
<text x="60.4" y="115" text-anchor="end" font-size="9.72" letter-spacing="0.148">80</text>
<text x="654.6" y="115" text-anchor="end" font-size="9.72" letter-spacing="0.148">80</text>
<text x="60.4" y="81" text-anchor="end" font-size="9.72" letter-spacing="0.148">90</text>
<text x="654.6" y="81" text-anchor="end" font-size="9.72" letter-spacing="0.148">90</text>
<text x="60.4" y="47" text-anchor="end" font-size="9.72" letter-spacing="0.148">100</text>
<text x="654.6" y="47" text-anchor="end" font-size="9.72" letter-spacing="0.148">100</text>
<text x="72" y="398" text-anchor="middle" font-size="9.72" letter-spacing="0.148" xml:space="preserve">Wed 00:00</text>
<text x="210" y="398" text-anchor="middle" font-size="9.72" letter-spacing="0.148" xml:space="preserve">Wed 06:00</text>
<text x="347" y="398" text-anchor="middle" font-size="9.72" letter-spacing="0.148" xml:space="preserve">Wed 12:00</text>
<text x="485" y="398" text-anchor="middle" font-size="9.72" letter-spacing="0.148" xml:space="preserve">Wed 18:00</text>
<text transform="translate(18,207.5) rotate(-90)" text-anchor="middle" font-size="11.11">C</text>
<text transform="translate(685.7,6.6) rotate(90)" font-size="7.64" letter-spacing="0.45" fill="#a8a8a8" stroke="none" xml:space="preserve">RRDTOOL / TOBI OETIKER</text>
<rect x="16.5" y="407.0" width="8" height="8" fill="#ff0000" stroke="#000" stroke-width="1" shape-rendering="crispEdges"/>
<text x="30" y="415" font-size="11.11" letter-spacing="0.312" xml:space="preserve">VL Kessel</text>
<rect x="114.5" y="407.0" width="8" height="8" fill="#000080" stroke="#000" stroke-width="1" shape-rendering="crispEdges"/>
<text x="128" y="415" font-size="11.11" letter-spacing="0.312" xml:space="preserve">RL Kessel</text>
<rect x="219.5" y="407.0" width="8" height="8" fill="#ff80a0" stroke="#000" stroke-width="1" shape-rendering="crispEdges"/>
<text x="233" y="415" font-size="11.11" letter-spacing="0.312" xml:space="preserve">VL Heizung</text>
<rect x="338.5" y="407.0" width="8" height="8" fill="#0000ff" stroke="#000" stroke-width="1" shape-rendering="crispEdges"/>
<text x="352" y="415" font-size="11.11" letter-spacing="0.312" xml:space="preserve">RL Heizung</text>
<rect x="471.5" y="407.0" width="8" height="8" fill="#aa0000" stroke="#000" stroke-width="1" shape-rendering="crispEdges"/>
<text x="485" y="415" font-size="11.11" letter-spacing="0.312" xml:space="preserve">Puffer Oben</text>
<rect x="583.5" y="407.0" width="8" height="8" fill="#880088" stroke="#000" stroke-width="1" shape-rendering="crispEdges"/>
<text x="597" y="415" font-size="11.11" letter-spacing="0.312" xml:space="preserve">Puffer Mitte</text>
<rect x="16.5" y="421.0" width="8" height="8" fill="#ff00ff" stroke="#000" stroke-width="1" shape-rendering="crispEdges"/>
<text x="30" y="429" font-size="11.11" letter-spacing="0.312" xml:space="preserve">Luftfeuchte</text>
<rect x="124.5" y="421.0" width="8" height="8" fill="#0000ff" stroke="#000" stroke-width="1" shape-rendering="crispEdges"/>
<text x="138" y="429" font-size="11.11" letter-spacing="0.312" xml:space="preserve">AT&gt;5C, FS AUS</text>
<rect x="246.5" y="421.0" width="8" height="8" fill="#ff00ff" stroke="#000" stroke-width="1" shape-rendering="crispEdges"/>
<text x="260" y="429" font-size="11.11" letter-spacing="0.312" xml:space="preserve">AT&lt;2C, FS EIN</text>
<rect x="368.5" y="421.0" width="8" height="8" fill="#808080" stroke="#000" stroke-width="1" shape-rendering="crispEdges"/>
<text x="382" y="429" font-size="11.11" letter-spacing="0.312" xml:space="preserve">Kessel-P AUS</text>
<rect x="483.5" y="421.0" width="8" height="8" fill="#cccc00" stroke="#000" stroke-width="1" shape-rendering="crispEdges"/>
<text x="497" y="429" font-size="11.11" letter-spacing="0.312" xml:space="preserve">Kessel-P EIN</text>
<rect x="598.5" y="421.0" width="8" height="8" fill="#ff0000" stroke="#000" stroke-width="1" shape-rendering="crispEdges"/>
<text x="612" y="429" font-size="11.11" letter-spacing="0.312" xml:space="preserve">Heiz-P AUS</text>
<rect x="16.5" y="435.0" width="8" height="8" fill="#00ff00" stroke="#000" stroke-width="1" shape-rendering="crispEdges"/>
<text x="30" y="443" font-size="11.11" letter-spacing="0.312" xml:space="preserve">Heiz-P EIN</text>
<text x="147" y="443" font-size="11.11" letter-spacing="0.312" xml:space="preserve">akt.rH: 0.00 C um 23:45</text>
<text x="355" y="443" font-size="11.11" letter-spacing="0.312" xml:space="preserve">akt.AT:13.44 C um 23:45</text>
<text x="563" y="443" font-size="11.11" letter-spacing="0.312" xml:space="preserve">min.AT24h:10.56 C</text>
<text x="16.45" y="457" font-size="11.11" letter-spacing="0.312" xml:space="preserve">max.AT24h:20.88 C</text>
<text x="151" y="457" font-size="11.11" letter-spacing="0.312" xml:space="preserve">akt.Fuellstand:   53 Prozent um 23:45</text>
</g>
</svg>
</body>
</html>
